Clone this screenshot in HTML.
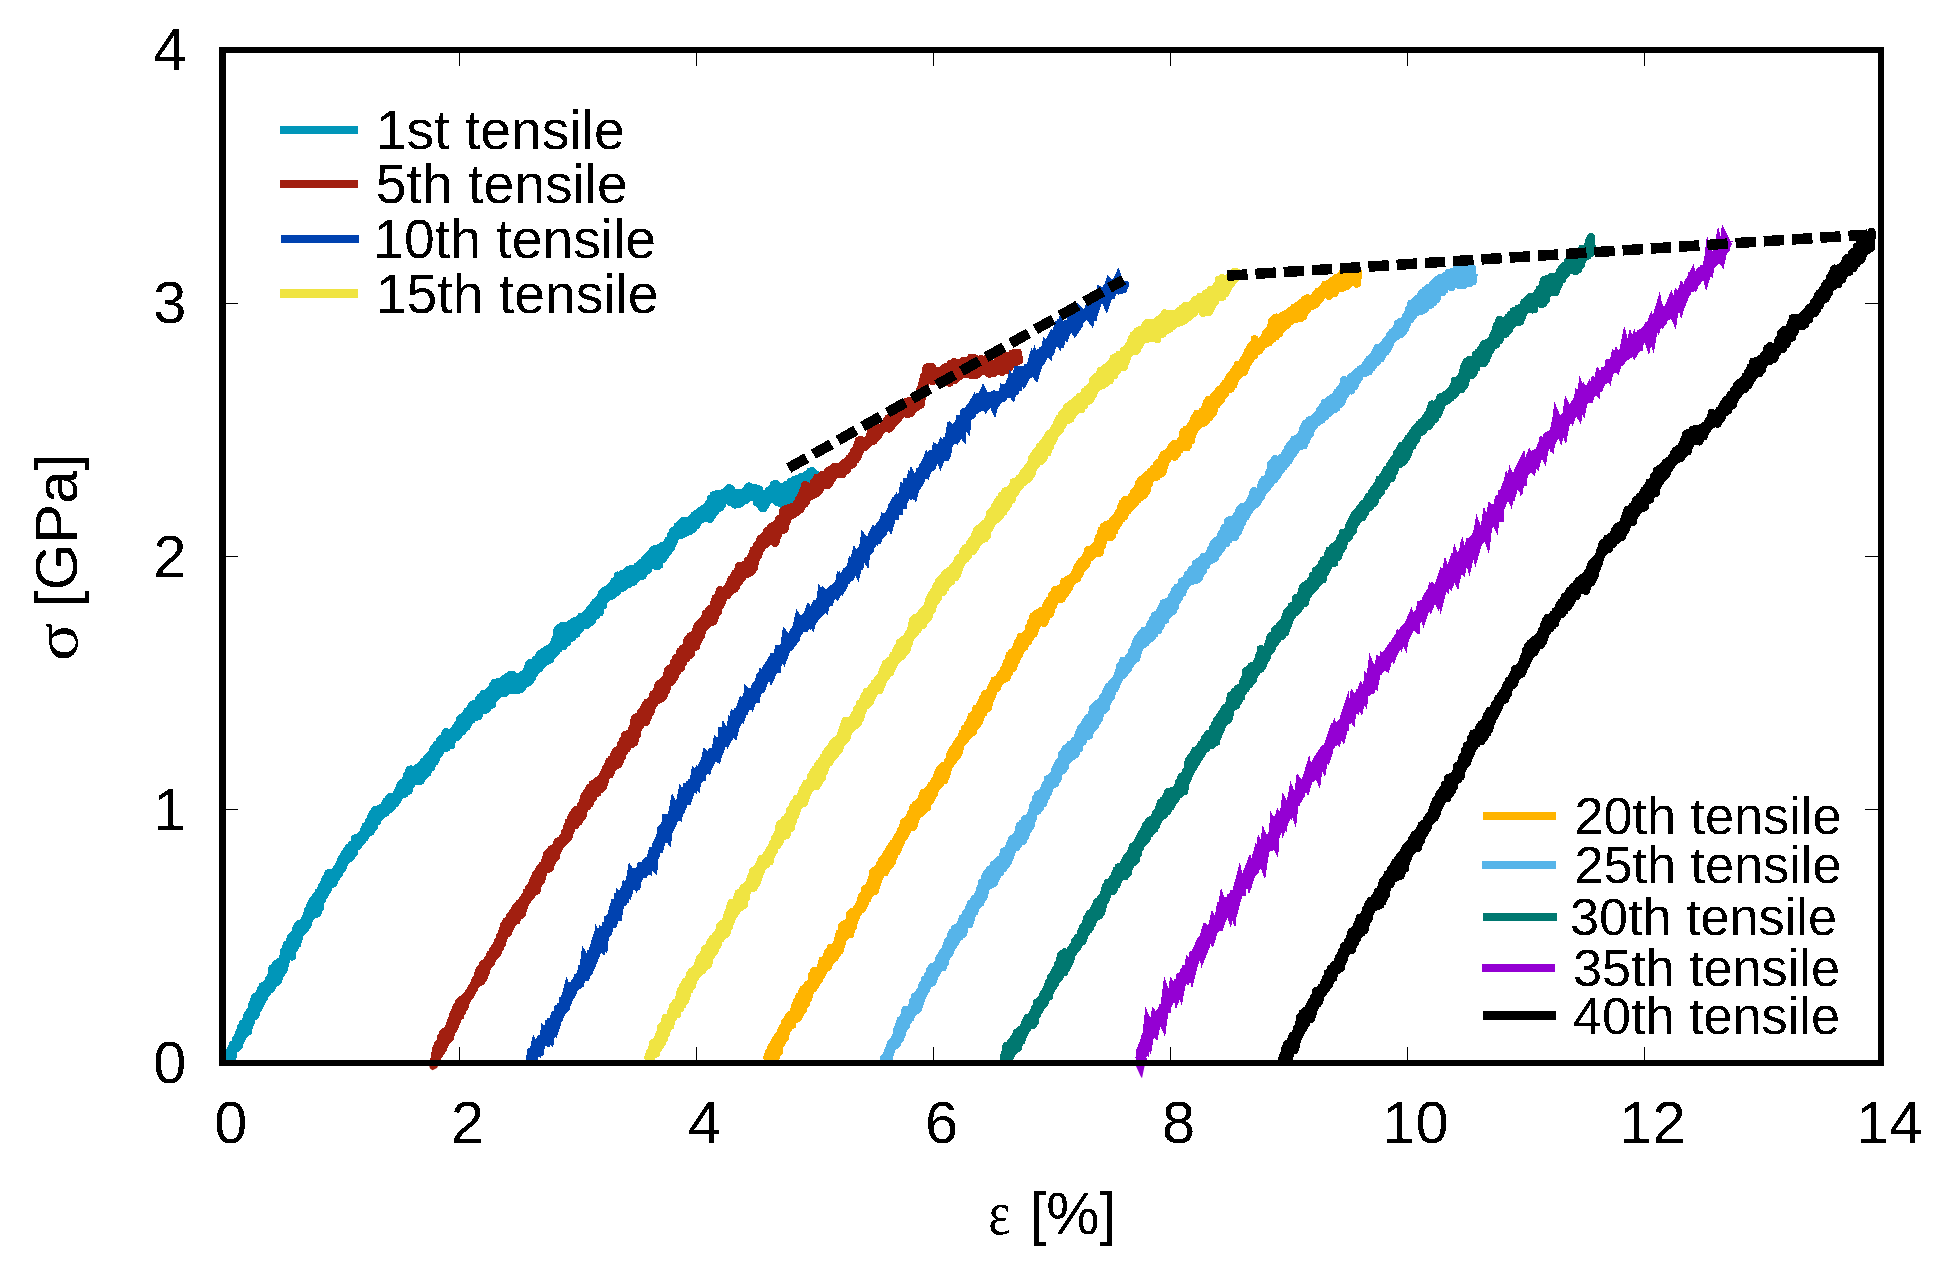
<!DOCTYPE html>
<html><head><meta charset="utf-8"><title>Stress-strain curves</title>
<style>html,body{margin:0;padding:0;background:#fff}svg{display:block}text{font-family:"Liberation Sans",sans-serif;fill:#000}.sym{font-family:"Liberation Serif",serif}</style></head><body>
<svg width="1949" height="1279" viewBox="0 0 1949 1279">
<rect width="1949" height="1279" fill="#fff"/>
<defs><clipPath id="ci"><rect x="219.8" y="0" width="1678.5" height="1065.2"/></clipPath></defs>
<polyline clip-path="url(#ci)" points="224.0,1062.0 224.8,1056.1 225.5,1067.6 226.3,1053.2 227.0,1067.3 227.7,1053.2 228.5,1067.1 229.1,1053.6 229.8,1067.1 230.3,1051.4 230.8,1064.7 231.3,1048.1 231.7,1060.3 232.2,1046.7 232.6,1057.2 233.1,1044.5 233.5,1052.5 234.0,1043.9 234.4,1049.8 234.9,1043.0 235.3,1048.7 235.8,1039.8 236.2,1046.5 236.7,1039.5 237.1,1047.9 237.6,1036.9 238.0,1046.8 238.4,1034.8 238.9,1046.0 239.3,1031.9 239.8,1042.7 240.2,1030.4 240.7,1039.6 241.1,1026.9 241.6,1039.4 242.0,1027.1 242.5,1037.1 242.9,1023.5 243.4,1034.0 243.8,1024.1 244.3,1034.4 244.7,1022.7 245.2,1033.6 245.6,1020.5 246.1,1032.8 246.5,1017.7 247.0,1029.6 247.4,1014.9 247.9,1031.7 248.3,1014.2 248.8,1027.4 249.2,1013.2 249.7,1024.3 250.1,1011.2 250.6,1023.3 251.1,1010.2 251.5,1018.3 252.0,1005.1 252.6,1016.7 253.1,1003.5 253.6,1016.4 254.1,999.8 254.7,1016.0 255.2,996.8 255.7,1014.6 256.3,999.0 256.8,1010.6 257.3,995.7 257.9,1009.2 258.4,995.1 258.9,1006.3 259.4,995.0 260.0,1005.4 260.5,989.7 261.0,1003.0 261.6,991.0 262.1,1000.6 262.6,986.3 263.1,998.7 263.7,988.4 264.2,997.2 264.7,987.6 265.3,994.7 265.8,984.9 266.3,993.9 266.9,984.1 267.4,992.1 267.9,982.7 268.4,990.4 269.0,978.9 269.5,989.8 270.0,977.9 270.6,989.0 271.1,976.2 271.6,988.2 272.1,968.7 272.7,986.3 273.2,970.3 273.7,984.4 274.3,969.8 274.8,982.1 275.3,965.3 275.9,980.5 276.4,963.6 276.9,981.9 277.4,966.5 277.9,980.6 278.4,965.3 278.9,977.9 279.4,961.8 279.9,975.3 280.3,962.2 280.8,971.3 281.3,962.4 281.7,972.9 282.2,959.7 282.6,971.1 283.1,957.0 283.6,970.2 284.0,951.3 284.5,964.2 285.0,949.9 285.4,964.0 285.9,947.0 286.4,960.3 286.8,944.8 287.3,956.3 287.8,944.3 288.2,955.5 288.7,943.2 289.1,954.3 289.6,941.7 290.1,954.7 290.5,938.2 291.0,953.4 291.5,937.5 291.9,956.7 292.4,935.7 292.9,949.9 293.3,936.4 293.8,949.1 294.3,934.0 294.7,947.2 295.2,933.0 295.6,945.9 296.1,929.0 296.6,942.0 297.0,927.3 297.5,943.8 298.0,925.0 298.4,939.5 298.9,924.2 299.4,937.3 299.8,924.6 300.3,933.3 300.8,924.8 301.3,932.9 301.8,923.6 302.3,930.4 302.9,922.6 303.4,930.1 303.9,920.9 304.5,928.9 305.0,919.1 305.5,927.9 306.1,917.2 306.6,924.2 307.1,913.7 307.7,924.9 308.2,909.9 308.7,920.7 309.2,909.3 309.8,917.9 310.3,905.3 310.8,917.3 311.4,904.0 311.9,914.9 312.4,900.9 313.0,915.2 313.5,899.5 314.0,912.4 314.6,899.9 315.1,912.6 315.6,896.5 316.1,913.0 316.7,895.5 317.2,913.6 317.7,896.2 318.3,911.4 318.8,892.0 319.3,908.9 319.9,891.4 320.4,907.0 320.9,889.6 321.5,900.5 322.0,886.6 322.5,899.2 323.0,884.8 323.6,895.6 324.1,885.1 324.6,894.6 325.2,879.7 325.7,892.5 326.2,880.5 326.8,889.6 327.3,876.8 327.9,889.4 328.4,873.3 329.0,886.1 329.5,872.6 330.1,885.2 330.7,876.1 331.3,884.6 331.8,875.5 332.4,883.2 333.0,875.2 333.6,883.2 334.1,874.1 334.7,880.0 335.3,871.0 335.8,878.2 336.4,869.1 337.0,875.9 337.6,867.7 338.1,874.6 338.7,865.3 339.3,873.0 339.9,862.9 340.4,870.1 341.0,859.8 341.6,868.7 342.1,859.4 342.7,867.5 343.3,856.7 343.9,864.4 344.4,854.1 345.0,862.1 345.6,854.4 346.2,860.2 346.7,850.7 347.3,859.1 347.9,850.6 348.4,857.4 349.0,847.4 349.6,858.5 350.2,848.8 350.7,856.8 351.3,845.1 351.9,855.4 352.5,844.5 353.0,852.8 353.6,843.9 354.2,852.2 354.7,839.0 355.3,847.8 355.9,838.4 356.5,845.8 357.0,837.5 357.6,846.5 358.2,837.7 358.8,844.8 359.4,838.4 360.0,843.1 360.6,835.9 361.2,841.3 361.8,835.1 362.4,840.8 363.0,833.4 363.6,838.5 364.2,830.1 364.8,837.5 365.4,826.4 366.0,834.5 366.6,826.9 367.2,833.6 367.8,824.3 368.4,831.7 369.0,820.9 369.6,831.8 370.2,819.6 370.8,831.7 371.4,816.1 372.0,828.7 372.6,813.8 373.2,827.3 373.8,813.4 374.5,825.7 375.1,809.9 375.8,822.2 376.5,810.4 377.2,821.2 377.9,810.3 378.6,818.1 379.3,810.2 380.0,816.5 380.7,808.1 381.4,815.2 382.1,807.4 382.8,812.6 383.5,807.1 384.2,812.3 384.9,804.5 385.6,812.8 386.3,801.6 387.0,810.7 387.7,801.6 388.4,810.0 389.1,798.3 389.8,808.5 390.5,796.9 391.2,807.6 391.9,799.6 392.6,806.0 393.3,798.7 394.0,803.1 394.7,797.6 395.4,803.6 396.1,796.0 396.8,801.4 397.4,791.7 398.1,799.3 398.6,790.0 399.2,796.8 399.8,786.4 400.3,794.3 400.8,784.4 401.4,792.5 401.9,783.2 402.5,793.2 403.0,784.1 403.6,793.6 404.1,783.2 404.7,793.8 405.3,781.7 405.9,790.7 406.6,776.0 407.3,789.1 408.0,775.0 408.7,790.7 409.4,769.9 410.1,784.2 410.8,769.4 411.5,784.5 412.2,771.5 413.0,781.9 413.7,771.1 414.4,778.8 415.1,771.3 415.9,779.3 416.7,768.6 417.5,777.7 418.3,767.3 419.2,781.3 420.1,765.8 420.9,780.4 421.8,764.6 422.6,777.0 423.5,761.6 424.3,775.4 425.2,762.1 426.0,772.8 426.7,758.2 427.4,772.8 428.1,759.5 428.7,770.1 429.3,755.7 429.9,766.8 430.5,757.1 431.1,767.4 431.6,753.5 432.2,764.8 432.8,750.6 433.4,762.6 434.0,748.6 434.6,761.8 435.2,749.5 435.8,759.0 436.3,745.6 436.9,756.6 437.5,744.4 438.1,754.5 438.7,745.2 439.3,753.1 439.9,740.3 440.5,751.4 441.0,741.5 441.6,749.2 442.2,738.5 442.8,747.6 443.4,737.9 444.1,747.0 444.7,734.9 445.4,746.9 446.1,732.2 446.8,747.7 447.5,735.4 448.2,746.0 448.9,733.2 449.6,743.5 450.3,733.4 451.0,745.5 451.7,733.2 452.4,740.7 453.2,731.0 453.9,738.3 454.6,729.6 455.3,736.9 456.0,727.5 456.7,737.1 457.4,724.6 458.1,736.2 458.8,723.7 459.5,733.4 460.2,719.3 460.9,731.3 461.6,718.0 462.3,731.2 463.0,718.1 463.7,728.8 464.4,716.4 465.1,728.1 465.8,714.2 466.4,727.0 467.1,711.7 467.8,724.5 468.5,711.0 469.1,721.5 469.8,709.4 470.5,719.3 471.2,706.6 471.8,719.5 472.5,704.9 473.2,717.2 473.9,704.2 474.5,717.4 475.2,703.6 475.9,717.2 476.5,704.6 477.2,715.6 477.9,702.8 478.6,716.1 479.2,698.9 479.9,711.4 480.6,697.1 481.3,710.5 481.9,697.5 482.6,710.3 483.3,694.2 484.0,710.4 484.7,696.7 485.5,707.3 486.3,694.7 487.1,709.2 488.0,692.8 488.8,705.4 489.7,690.4 490.5,705.1 491.4,688.9 492.2,704.6 493.1,684.8 493.9,698.7 494.8,682.7 495.6,697.3 496.5,683.9 497.3,695.9 498.2,682.2 499.0,693.7 499.9,684.4 500.7,693.0 501.6,681.7 502.5,692.8 503.3,680.2 504.2,693.5 505.1,678.7 506.1,691.6 507.0,677.2 508.0,690.2 508.9,677.7 509.9,690.2 510.8,674.8 511.8,689.6 512.7,675.0 513.7,690.3 514.6,676.6 515.6,690.3 516.5,677.1 517.5,688.0 518.4,678.7 519.4,689.6 520.3,677.0 521.2,689.0 522.0,675.2 522.7,687.0 523.3,675.9 523.9,685.0 524.5,673.9 525.1,683.5 525.7,673.9 526.3,683.6 526.8,670.2 527.4,680.9 528.0,666.9 528.6,682.3 529.2,663.8 529.8,681.1 530.3,663.2 530.9,677.3 531.5,664.4 532.1,677.9 532.7,663.8 533.4,674.7 534.0,662.8 534.6,673.3 535.3,660.2 535.9,669.9 536.6,659.5 537.2,669.8 537.9,658.0 538.5,668.9 539.2,655.4 539.8,667.9 540.5,653.8 541.1,664.5 541.8,653.7 542.5,664.5 543.3,652.2 544.0,662.6 544.8,651.0 545.6,661.9 546.3,649.8 547.1,661.2 547.9,649.9 548.7,658.5 549.4,648.3 550.2,659.7 550.9,647.2 551.6,655.8 552.3,646.2 552.9,655.0 553.4,644.6 554.0,654.2 554.5,641.0 555.1,650.3 555.6,638.4 556.2,651.7 556.7,631.5 557.3,648.0 557.9,629.5 558.5,648.8 559.2,628.1 560.0,647.0 560.9,629.6 561.8,645.5 562.8,625.6 563.7,646.3 564.7,628.6 565.6,643.3 566.6,626.7 567.5,642.6 568.5,626.9 569.3,639.1 570.1,624.2 570.8,637.6 571.6,625.4 572.2,637.7 572.9,622.3 573.6,634.7 574.3,621.6 575.0,633.7 575.7,620.9 576.4,633.9 577.1,621.0 577.8,631.3 578.5,619.7 579.2,629.1 579.9,618.4 580.6,628.3 581.4,616.6 582.3,625.8 583.2,616.4 584.0,624.0 584.9,615.3 585.8,623.9 586.5,614.6 587.3,624.8 587.9,612.4 588.6,621.5 589.2,610.7 589.8,621.4 590.5,608.9 591.1,622.1 591.7,608.8 592.3,620.4 593.0,606.6 593.6,615.8 594.2,604.2 594.8,616.0 595.5,602.4 596.1,615.3 596.7,602.3 597.3,612.7 597.9,600.3 598.6,610.6 599.2,599.6 599.8,612.5 600.4,597.0 601.0,606.9 601.6,593.8 602.2,605.7 602.8,592.3 603.4,605.2 604.0,591.8 604.6,600.3 605.3,590.5 605.9,599.0 606.7,589.8 607.4,596.9 608.2,589.4 609.0,594.5 609.8,587.8 610.5,594.4 611.3,586.6 612.1,595.6 612.9,583.9 613.7,593.7 614.5,581.2 615.3,591.6 616.1,580.0 616.9,592.0 617.7,575.5 618.5,588.3 619.3,577.1 620.2,587.6 621.0,576.1 621.9,588.1 622.7,573.8 623.6,587.2 624.4,574.8 625.3,585.9 626.1,572.3 627.0,583.4 627.8,570.1 628.7,584.4 629.5,569.6 630.4,582.8 631.2,569.2 632.1,582.0 632.9,569.2 633.7,581.8 634.6,569.7 635.4,579.3 636.1,568.0 636.9,576.2 637.7,566.1 638.4,577.0 639.2,565.9 639.9,575.5 640.6,564.0 641.3,576.2 642.0,562.5 642.7,575.7 643.4,562.5 644.0,572.5 644.7,559.3 645.4,571.3 646.1,558.8 646.8,568.8 647.5,556.9 648.2,569.8 648.9,555.7 649.6,566.4 650.3,554.4 651.0,565.5 651.7,553.0 652.4,562.8 653.1,550.1 653.9,563.8 654.7,549.2 655.6,565.7 656.5,549.5 657.5,566.0 658.4,549.1 659.4,564.9 660.3,547.4 661.3,559.1 662.2,546.2 663.2,559.0 664.1,546.5 665.1,555.6 665.9,545.4 666.7,553.3 667.3,542.6 667.8,551.8 668.2,540.5 668.6,549.1 669.0,541.8 669.3,547.5 669.7,540.3 670.0,547.4 670.4,539.1 670.7,547.9 671.1,535.1 671.5,547.4 671.9,533.9 672.4,542.3 673.0,531.5 673.7,541.5 674.4,530.6 675.2,537.1 676.0,529.6 676.8,535.9 677.5,526.3 678.3,534.2 679.1,526.9 679.9,533.7 680.7,523.3 681.5,534.7 682.3,522.1 683.1,533.4 683.9,520.6 684.8,532.4 685.6,521.1 686.4,532.6 687.3,521.3 688.1,531.3 689.0,521.1 689.8,531.0 690.6,520.1 691.5,529.8 692.3,518.2 693.2,528.2 694.1,515.7 694.9,525.4 695.8,514.5 696.6,525.3 697.4,513.3 698.2,521.8 699.0,512.4 699.8,520.1 700.5,510.5 701.2,519.2 701.9,511.0 702.7,518.3 703.4,509.0 704.1,517.9 704.8,508.0 705.6,517.1 706.3,507.5 707.0,518.1 707.7,505.6 708.4,515.7 709.2,503.1 709.9,519.1 710.6,498.7 711.3,514.7 712.0,497.9 712.7,515.1 713.5,495.2 714.2,511.2 714.9,496.8 715.7,511.0 716.4,494.9 717.2,506.6 717.9,493.6 718.7,507.2 719.4,496.0 720.2,507.6 720.9,495.5 721.7,505.4 722.5,493.5 723.3,502.0 724.1,492.8 724.9,500.2 725.8,491.2 726.8,498.2 727.8,489.2 728.7,499.2 729.5,488.1 730.2,501.9 731.0,489.3 731.8,502.1 732.5,492.9 733.3,503.0 734.2,494.2 735.2,504.6 736.1,494.0 737.1,503.1 737.9,492.8 738.7,504.4 739.6,494.6 740.5,503.2 741.3,493.3 742.2,501.7 743.1,493.2 744.0,499.3 744.9,491.7 745.8,499.9 746.6,489.6 747.4,498.6 748.1,487.3 748.7,497.6 749.4,486.4 750.0,495.3 750.9,487.2 751.9,496.0 752.8,487.9 753.7,497.2 754.5,487.7 755.3,498.2 756.2,489.9 757.1,502.7 758.0,489.0 758.8,503.7 759.6,490.1 760.2,504.3 760.8,493.2 761.3,503.6 761.8,495.7 762.3,508.3 762.8,497.3 763.4,508.5 764.3,497.3 765.2,505.6 765.9,495.9 766.6,503.2 767.2,493.5 767.9,500.5 768.6,490.6 769.3,498.4 770.1,490.1 770.9,497.3 771.8,488.6 772.7,498.7 773.7,484.9 774.7,499.8 775.7,483.9 776.7,501.7 777.7,485.8 778.7,502.0 779.7,488.1 780.7,503.6 781.7,486.6 782.7,503.4 783.7,487.4 784.6,498.8 785.6,485.6 786.6,500.8 787.5,484.4 788.4,498.9 789.3,484.3 790.1,502.0 790.9,481.5 791.7,498.0 792.4,483.1 793.2,497.5 794.0,480.3 794.7,491.7 795.5,481.5 796.3,489.6 797.1,479.0 798.0,488.4 798.8,480.1 799.7,486.7 800.6,477.9 801.4,485.8 802.3,476.6 803.2,486.0 804.2,476.5 805.1,486.2 806.1,475.2 807.1,487.0 808.1,474.0 809.1,487.1 810.1,471.7 811.1,490.2 812.1,471.1 813.1,488.8 814.1,473.1 815.1,491.1 816.1,474.8 817.1,490.1 818.0,481.0" fill="none" stroke="#0096B9" stroke-width="8.0" stroke-linejoin="round" stroke-linecap="butt" shape-rendering="crispEdges"/>
<polyline clip-path="url(#ci)" points="433.4,1066.0 433.6,1061.9 433.9,1069.3 434.1,1060.2 434.3,1070.7 434.5,1058.5 434.8,1068.1 435.0,1054.7 435.3,1067.5 435.6,1052.7 435.9,1062.5 436.3,1048.2 436.8,1059.7 437.2,1047.1 437.6,1056.9 438.1,1044.0 438.5,1054.9 439.0,1044.7 439.4,1054.7 439.9,1042.1 440.3,1052.4 440.8,1037.4 441.2,1051.7 441.7,1037.1 442.1,1048.7 442.6,1033.4 443.0,1049.1 443.5,1033.9 443.9,1045.8 444.3,1034.0 444.8,1042.5 445.2,1031.4 445.7,1042.7 446.1,1032.3 446.6,1039.0 447.0,1031.4 447.5,1039.9 447.9,1029.8 448.4,1038.3 448.8,1027.3 449.3,1038.1 449.7,1024.4 450.2,1037.1 450.6,1022.1 451.1,1033.9 451.5,1020.0 452.0,1030.8 452.4,1018.6 452.8,1029.8 453.3,1014.5 453.7,1028.6 454.2,1013.8 454.6,1025.2 455.1,1011.1 455.5,1025.5 456.0,1007.8 456.4,1022.2 456.9,1006.2 457.4,1020.6 457.9,1005.4 458.4,1017.0 458.9,1002.0 459.4,1014.9 460.0,1003.1 460.5,1015.8 461.0,1000.2 461.5,1011.8 462.0,1000.9 462.5,1011.2 463.1,1000.2 463.6,1006.9 464.1,999.6 464.6,1007.1 465.1,997.3 465.6,1003.5 466.1,996.3 466.7,999.8 467.2,995.2 467.7,999.1 468.2,993.6 468.7,997.4 469.2,992.2 469.8,996.3 470.3,989.9 470.8,993.7 471.3,988.2 471.8,992.8 472.3,987.0 472.9,990.4 473.4,984.7 473.9,988.7 474.4,982.7 474.9,986.6 475.4,980.2 476.0,984.9 476.5,978.6 477.0,984.0 477.5,975.9 478.0,983.1 478.5,972.0 479.1,981.1 479.6,969.6 480.1,980.5 480.6,969.3 481.1,981.7 481.6,967.6 482.2,978.9 482.7,964.2 483.2,978.5 483.7,965.1 484.2,976.5 484.7,964.4 485.2,973.6 485.7,963.3 486.2,971.2 486.7,962.0 487.2,967.9 487.7,959.8 488.2,964.7 488.7,958.7 489.2,964.3 489.7,955.8 490.1,963.8 490.6,954.2 491.1,962.9 491.6,953.4 492.1,960.0 492.6,950.8 493.1,957.7 493.6,949.6 494.1,956.1 494.6,948.0 495.1,955.8 495.6,946.7 496.1,955.1 496.6,945.0 497.1,954.0 497.6,942.2 498.1,951.7 498.6,940.6 499.1,949.1 499.6,936.5 500.1,947.6 500.6,935.5 501.1,944.5 501.6,932.7 502.1,943.9 502.6,930.2 503.1,940.1 503.6,925.9 504.1,936.9 504.6,925.0 505.1,935.0 505.6,922.8 506.1,932.5 506.6,921.1 507.1,931.6 507.6,922.1 508.1,932.9 508.6,921.8 509.1,929.8 509.7,916.7 510.2,927.8 510.7,915.3 511.3,925.3 511.8,914.3 512.3,923.0 512.9,912.3 513.4,921.5 513.9,912.1 514.4,920.0 515.0,909.7 515.5,919.4 516.0,907.0 516.6,920.6 517.1,907.7 517.6,917.2 518.2,905.4 518.7,915.1 519.2,903.4 519.8,915.8 520.3,903.8 520.8,914.7 521.3,902.9 521.9,914.3 522.4,900.5 522.9,910.1 523.5,899.9 524.0,906.8 524.5,896.7 525.1,904.1 525.6,896.3 526.1,901.6 526.7,892.1 527.2,900.7 527.7,892.3 528.2,899.1 528.8,888.2 529.3,897.7 529.8,887.2 530.4,896.8 530.9,887.0 531.4,894.9 532.0,883.8 532.5,893.4 533.0,881.7 533.6,891.6 534.1,878.6 534.6,889.8 535.1,877.2 535.7,890.7 536.2,874.1 536.7,890.8 537.3,874.2 537.8,884.6 538.3,871.9 538.9,883.4 539.4,869.0 539.9,880.6 540.4,868.1 541.0,880.8 541.5,867.4 542.0,878.1 542.6,865.2 543.1,873.6 543.6,864.9 544.1,871.0 544.7,861.8 545.2,869.1 545.7,859.1 546.3,868.5 546.8,854.7 547.3,869.4 547.9,853.6 548.4,868.8 548.9,853.8 549.4,867.1 550.0,851.7 550.5,867.0 551.0,849.7 551.6,863.4 552.1,851.6 552.6,860.3 553.1,848.5 553.7,859.2 554.2,847.9 554.7,858.4 555.3,847.4 555.8,857.4 556.3,845.2 556.9,852.5 557.4,841.9 557.9,850.4 558.4,842.0 559.0,847.5 559.5,840.7 560.0,846.2 560.6,840.6 561.1,843.8 561.6,839.4 562.1,843.3 562.6,837.8 563.2,843.1 563.7,836.6 564.2,841.4 564.7,832.5 565.2,840.1 565.7,831.2 566.3,839.5 566.8,827.3 567.3,838.9 567.8,826.0 568.3,837.7 568.8,822.0 569.3,835.0 569.9,821.2 570.4,830.9 570.9,818.3 571.4,829.0 571.9,816.7 572.4,826.7 573.0,814.4 573.5,825.5 574.0,812.9 574.5,825.5 575.0,811.5 575.6,825.4 576.1,810.3 576.7,823.2 577.2,809.5 577.7,820.9 578.3,810.3 578.8,821.7 579.4,809.4 579.9,817.8 580.5,806.2 581.0,817.7 581.6,805.2 582.1,817.1 582.7,801.4 583.2,814.4 583.7,797.8 584.3,809.4 584.8,795.3 585.4,807.5 585.9,795.9 586.5,805.6 587.0,792.6 587.6,806.2 588.1,790.9 588.7,804.3 589.2,788.7 589.8,803.4 590.3,787.3 590.8,800.3 591.4,787.6 591.9,798.2 592.5,784.2 593.0,797.7 593.6,786.2 594.1,794.0 594.7,783.1 595.2,793.7 595.8,783.9 596.3,792.6 596.8,782.2 597.4,793.0 597.9,780.6 598.5,789.3 599.0,779.9 599.6,788.7 600.2,779.5 600.7,789.1 601.3,777.8 601.9,785.4 602.4,776.0 603.0,787.2 603.6,773.7 604.1,784.1 604.7,772.1 605.3,780.2 605.9,768.3 606.4,776.1 607.0,767.2 607.6,774.7 608.1,765.4 608.7,773.5 609.3,761.3 609.8,774.4 610.4,761.6 611.0,771.6 611.5,759.4 612.1,768.1 612.7,758.9 613.3,767.3 613.8,755.7 614.4,766.0 615.0,753.6 615.5,763.7 616.1,750.9 616.7,765.1 617.2,750.4 617.8,764.8 618.4,750.4 618.9,763.5 619.5,748.7 620.1,760.5 620.6,744.9 621.2,757.8 621.7,745.0 622.3,756.1 622.8,741.0 623.4,752.6 623.9,739.7 624.5,751.3 625.1,735.2 625.6,748.0 626.2,735.9 626.7,748.6 627.3,735.8 627.8,745.8 628.4,734.2 628.9,745.2 629.5,734.2 630.1,742.6 630.6,732.9 631.2,744.2 631.7,729.6 632.3,740.2 632.8,727.5 633.4,742.4 633.9,721.4 634.5,742.4 635.1,717.8 635.6,734.8 636.2,719.7 636.8,734.9 637.4,716.6 638.0,729.0 638.6,716.2 639.2,726.3 639.8,716.4 640.4,725.2 641.0,712.6 641.6,723.1 642.1,714.2 642.7,722.7 643.2,710.1 643.7,720.9 644.3,707.5 644.8,720.0 645.4,705.1 645.9,721.8 646.4,705.4 647.0,718.6 647.5,702.5 648.0,717.4 648.6,704.0 649.1,713.8 649.7,703.3 650.2,712.4 650.7,700.8 651.3,710.4 651.8,699.3 652.3,706.8 652.9,694.9 653.4,704.8 654.0,695.1 654.5,703.5 655.0,693.2 655.6,700.6 656.1,691.8 656.6,700.2 657.2,690.3 657.7,699.5 658.3,685.0 658.8,699.7 659.3,685.7 659.9,697.3 660.4,683.5 661.0,698.7 661.5,684.5 662.0,697.2 662.6,682.0 663.1,696.5 663.7,680.4 664.3,694.5 664.8,679.1 665.4,690.6 665.9,678.5 666.5,690.2 667.0,674.0 667.6,685.6 668.1,670.2 668.7,683.4 669.2,669.2 669.8,682.6 670.4,670.9 670.9,679.7 671.5,667.5 672.0,681.2 672.6,668.0 673.1,677.5 673.7,662.7 674.2,678.0 674.8,661.1 675.3,675.7 675.9,658.3 676.4,670.6 677.0,658.6 677.6,671.5 678.1,658.5 678.7,668.5 679.2,655.9 679.8,668.4 680.3,651.6 680.9,668.1 681.4,651.8 682.0,663.8 682.5,648.9 683.1,662.5 683.7,649.2 684.2,660.0 684.8,647.7 685.3,657.6 685.9,646.5 686.4,658.2 687.0,641.3 687.5,656.2 688.1,639.5 688.7,655.0 689.2,637.8 689.8,654.9 690.3,636.4 690.9,653.8 691.4,637.7 692.0,649.1 692.5,635.9 693.1,647.3 693.7,635.0 694.2,647.1 694.8,635.7 695.3,644.9 695.9,630.8 696.4,646.6 697.0,626.9 697.5,642.3 698.1,625.0 698.7,640.3 699.2,625.7 699.8,637.1 700.3,623.0 700.9,635.9 701.4,624.7 702.0,632.2 702.6,620.6 703.1,628.5 703.7,620.2 704.2,627.4 704.7,617.2 705.3,625.5 705.8,613.5 706.3,625.3 706.8,613.5 707.3,624.0 707.8,612.8 708.4,623.2 708.9,610.1 709.4,622.3 709.9,609.1 710.5,621.2 711.0,610.5 711.6,621.4 712.1,609.1 712.7,621.8 713.3,606.1 713.8,620.5 714.4,601.8 715.0,616.6 715.5,598.4 716.1,613.6 716.7,597.7 717.3,610.9 717.8,596.4 718.4,611.2 719.0,592.7 719.5,606.3 720.1,590.1 720.7,605.2 721.2,592.6 721.8,602.3 722.4,593.8 722.9,599.3 723.5,592.8 724.1,596.9 724.6,592.2 725.2,595.3 725.8,590.3 726.4,594.3 726.9,588.7 727.5,595.4 728.1,587.0 728.7,592.7 729.3,584.2 729.9,592.2 730.5,581.5 731.1,588.7 731.7,579.1 732.2,587.4 732.8,579.4 733.4,588.9 734.0,576.4 734.6,588.7 735.2,573.6 735.8,587.2 736.4,573.5 737.1,584.1 737.7,570.8 738.3,582.9 739.0,566.2 739.6,581.2 740.2,565.8 740.9,577.5 741.5,565.8 742.2,577.7 742.8,566.1 743.4,574.3 744.1,565.6 744.7,572.6 745.3,564.5 746.0,574.5 746.6,563.5 747.3,572.3 747.9,560.6 748.5,571.1 749.2,560.0 749.8,572.8 750.4,558.5 751.1,567.8 751.7,555.9 752.2,570.9 752.8,553.0 753.3,568.9 753.8,550.0 754.3,567.3 754.8,550.3 755.3,562.9 755.8,549.2 756.3,558.0 756.8,545.7 757.2,556.0 757.7,544.6 758.2,555.6 758.7,543.2 759.2,552.8 759.7,540.7 760.2,549.7 760.7,539.0 761.3,548.7 762.0,538.9 762.7,545.2 763.6,536.6 764.5,544.8 765.4,534.9 766.3,543.9 767.2,530.9 768.1,541.7 769.0,530.9 769.7,540.0 770.4,528.6 771.1,538.5 771.7,527.0 772.3,538.8 772.9,528.3 773.6,539.3 774.2,525.6 774.8,543.0 775.4,524.7 776.0,541.1 776.6,523.5 777.3,536.7 777.9,522.7 778.5,534.3 779.1,518.8 779.7,530.8 780.3,519.6 780.9,529.2 781.6,517.6 782.2,530.1 782.8,511.6 783.4,529.9 784.0,510.6 784.6,529.1 785.2,509.3 785.9,523.0 786.5,509.4 787.2,520.7 787.8,511.0 788.5,517.5 789.1,508.0 789.8,515.2 790.5,509.1 791.1,514.6 791.8,507.2 792.5,514.9 793.1,508.0 793.8,512.9 794.5,506.5 795.1,513.2 795.8,505.1 796.5,512.3 797.1,502.8 797.8,511.2 798.5,500.1 799.1,509.6 799.8,498.7 800.5,509.5 801.2,496.2 801.8,506.7 802.5,492.1 803.2,503.3 803.8,489.9 804.5,503.7 805.2,484.9 805.8,502.0 806.5,487.7 807.2,498.1 807.9,487.7 808.5,496.3 809.2,488.8 809.9,496.6 810.5,487.3 811.2,495.4 811.9,486.0 812.7,495.4 813.5,482.9 814.5,494.4 815.4,480.8 816.4,493.3 817.3,477.6 818.2,491.9 819.0,477.6 819.7,489.7 820.5,479.0 821.3,486.1 822.0,475.0 822.8,485.7 823.5,475.2 824.3,483.4 825.0,475.3 825.8,483.5 826.5,474.2 827.3,485.2 828.0,471.0 828.8,484.4 829.5,470.3 830.3,481.6 831.1,469.9 831.8,479.3 832.6,469.4 833.4,476.1 834.2,467.1 835.0,473.5 835.9,468.5 836.8,473.7 837.7,467.3 838.6,474.2 839.5,466.9 840.4,473.2 841.3,465.8 842.1,474.4 843.0,464.4 843.9,471.6 844.8,462.4 845.7,470.8 846.5,462.3 847.2,469.3 847.9,460.7 848.6,466.6 849.2,458.7 849.8,465.2 850.4,458.5 851.0,465.0 851.6,456.0 852.2,464.0 852.8,455.4 853.4,463.7 854.0,451.1 854.6,460.4 855.2,450.5 855.8,459.8 856.4,447.6 857.0,457.5 857.6,443.9 858.2,456.1 858.8,440.6 859.4,452.5 860.1,439.8 860.7,449.7 861.4,441.1 862.1,447.8 862.8,442.2 863.5,446.8 864.2,443.0 865.0,447.1 865.7,440.7 866.4,445.1 867.1,440.0 867.8,444.2 868.5,438.7 869.2,442.2 869.9,435.4 870.6,441.5 871.3,430.9 872.0,441.4 872.7,431.0 873.5,440.9 874.2,426.1 874.9,438.8 875.7,427.7 876.5,437.7 877.3,428.3 878.1,435.6 878.9,427.7 879.7,433.2 880.5,427.7 881.3,431.1 882.1,426.9 882.9,428.9 883.7,424.4 884.5,427.7 885.3,423.2 886.1,427.8 886.9,420.0 887.7,427.9 888.5,418.3 889.3,428.7 890.1,417.1 890.9,426.7 891.7,417.5 892.5,423.8 893.2,417.0 894.0,422.6 894.8,415.0 895.5,421.2 896.3,413.5 897.1,419.9 897.8,410.6 898.6,418.4 899.4,409.7 900.2,415.7 900.9,407.4 901.7,414.4 902.5,407.7 903.2,413.6 904.0,406.2 904.7,412.8 905.5,403.3 906.3,413.7 907.0,401.6 907.8,414.3 908.6,402.7 909.3,413.4 910.1,400.5 910.8,413.2 911.6,401.3 912.4,410.4 913.1,400.7 913.9,406.9 914.6,399.3 915.4,408.0 916.2,398.0 916.9,406.5 917.7,395.1 918.4,405.9 919.1,392.7 919.7,402.7 920.3,389.7 920.7,404.5 921.1,388.4 921.4,399.3 921.7,384.6 922.0,398.1 922.3,383.0 922.7,394.1 923.0,379.9 923.3,391.6 923.6,377.8 923.9,389.0 924.2,376.3 924.5,387.0 924.8,376.3 925.2,384.3 925.5,373.3 925.8,382.1 926.3,367.9 926.9,379.8 927.8,367.1 928.8,379.8 929.8,370.1 930.8,380.4 931.8,366.8 932.8,381.3 933.8,371.4 934.8,380.5 935.8,372.3 936.8,379.9 937.8,371.2 938.8,380.3 939.8,371.9 940.7,382.5 941.7,370.9 942.7,382.1 943.6,369.0 944.5,381.1 945.3,367.3 946.2,381.7 947.1,367.8 947.9,380.9 948.8,367.4 949.7,382.7 950.6,364.0 951.4,379.7 952.3,364.9 953.2,379.6 954.0,362.1 954.9,380.3 955.8,362.5 956.7,377.7 957.6,364.6 958.5,376.2 959.5,363.3 960.4,375.8 961.4,362.8 962.3,372.2 963.3,361.1 964.2,373.8 965.2,362.3 966.1,370.2 967.1,360.9 968.0,373.9 969.0,360.3 970.0,372.8 971.0,357.7 972.0,375.5 973.0,358.7 974.0,372.0 975.0,358.3 976.0,374.8 977.0,360.7 978.0,374.1 979.0,360.6 980.0,372.0 981.0,359.2 982.0,369.8 983.0,361.5 983.9,371.4 984.9,359.4 985.8,371.6 986.7,359.9 987.7,372.1 988.6,361.6 989.5,373.7 990.5,363.1 991.4,373.5 992.4,363.9 993.4,373.2 994.4,364.1 995.3,370.1 996.1,364.0 997.0,369.7 997.8,360.6 998.6,370.7 999.5,358.8 1000.3,369.4 1001.1,357.2 1002.0,371.8 1002.8,355.7 1003.6,369.1 1004.5,355.4 1005.3,367.5 1006.2,355.5 1007.2,370.1 1008.1,356.2 1009.1,367.6 1010.1,356.1 1011.1,363.5 1012.1,353.6 1013.1,364.0 1014.0,352.9 1015.0,362.0 1016.0,352.8 1017.0,361.8 1018.0,352.6 1019.0,360.7 1019.3,358.2" fill="none" stroke="#A21F10" stroke-width="8.0" stroke-linejoin="round" stroke-linecap="butt" shape-rendering="crispEdges"/>
<polyline clip-path="url(#ci)" points="530.0,1061.5 531.0,1063.6 531.9,1060.0 532.8,1053.9 533.6,1053.8 534.3,1056.0 535.1,1052.5 535.9,1054.2 536.7,1045.4 537.5,1053.6 538.2,1052.0 539.0,1042.7 539.8,1044.2 540.6,1042.2 541.3,1041.5 542.1,1043.5 542.9,1038.6 543.6,1036.4 544.4,1039.0 545.2,1039.3 546.0,1033.7 546.7,1034.2 547.5,1028.7 548.3,1033.4 549.1,1034.3 549.8,1029.9 550.6,1027.0 551.4,1020.8 552.2,1023.8 552.9,1018.3 553.7,1023.9 554.5,1025.1 555.3,1022.8 556.0,1018.5 556.8,1018.1 557.6,1011.9 558.3,1014.8 559.1,1013.5 559.9,1011.7 560.7,1005.4 561.4,1009.7 562.2,1008.9 563.0,1004.6 563.7,1006.2 564.5,1005.9 565.3,997.7 566.1,1003.5 566.8,998.7 567.6,995.7 568.4,997.7 569.1,994.0 569.9,993.5 570.7,990.8 571.4,990.4 572.2,987.7 573.0,986.5 573.8,985.5 574.5,983.6 575.3,988.3 576.1,984.4 576.8,984.1 577.6,986.1 578.4,982.2 579.2,979.3 579.9,975.2 580.7,978.7 581.5,976.6 582.2,976.7 583.0,980.1 583.8,970.6 584.5,965.5 585.2,970.3 586.0,963.8 586.7,965.0 587.4,966.2 588.2,963.8 588.9,962.1 589.6,962.1 590.3,955.3 591.1,958.5 591.8,960.2 592.5,958.6 593.2,950.7 594.0,955.4 594.7,952.9 595.4,948.0 596.1,945.8 596.9,947.5 597.6,950.0 598.3,946.4 599.0,941.5 599.8,942.8 600.5,943.5 601.2,939.7 601.9,937.5 602.7,938.5 603.4,931.4 604.1,935.8 604.8,930.0 605.6,931.9 606.3,931.6 607.0,929.1 607.7,926.2 608.4,925.8 609.1,927.5 609.8,920.7 610.4,920.5 611.1,922.2 611.8,922.1 612.4,918.7 613.1,916.1 613.8,917.8 614.4,913.8 615.1,918.3 615.8,915.4 616.5,915.4 617.1,907.0 617.8,906.8 618.5,906.0 619.1,902.3 619.8,902.7 620.5,905.0 621.1,898.8 621.8,899.3 622.5,902.4 623.2,898.1 623.8,897.2 624.5,894.7 625.2,891.7 625.8,891.0 626.5,891.3 627.2,887.8 627.9,888.0 628.6,885.5 629.3,885.1 630.2,888.0 631.1,884.5 632.1,878.6 633.1,880.2 634.2,889.1 635.2,883.0 636.2,874.5 637.2,877.4 638.2,875.2 639.3,869.4 640.3,873.8 641.3,876.8 642.3,869.0 643.4,869.0 644.4,863.2 645.4,866.4 646.4,865.3 647.4,866.0 648.4,860.6 649.3,864.2 650.1,858.4 650.8,860.5 651.5,861.1 652.2,861.8 652.8,854.4 653.5,855.6 654.1,854.3 654.8,847.8 655.4,850.7 656.0,850.2 656.7,849.6 657.3,851.8 658.0,845.8 658.6,844.1 659.3,842.6 659.9,841.5 660.6,841.3 661.2,842.7 661.9,834.8 662.5,836.1 663.1,830.0 663.8,829.2 664.4,832.4 665.1,825.9 665.7,830.1 666.4,831.1 667.0,824.4 667.7,823.4 668.3,814.8 669.0,821.2 669.8,821.1 670.7,818.3 671.6,821.0 672.7,818.6 673.7,816.5 674.7,810.9 675.6,812.6 676.4,813.2 677.1,813.5 677.9,808.9 678.6,810.7 679.4,810.0 680.1,805.1 680.9,807.1 681.7,803.6 682.4,800.0 683.2,801.3 683.9,803.3 684.7,799.8 685.4,797.6 686.2,796.3 686.9,796.7 687.7,794.1 688.4,787.8 689.2,783.9 689.9,785.7 690.7,792.4 691.4,788.8 692.2,781.9 692.9,785.8 693.7,779.7 694.4,782.3 695.2,782.8 695.9,778.9 696.7,779.8 697.5,778.7 698.3,771.2 699.1,773.8 700.0,780.0 700.9,770.3 701.8,767.1 702.7,772.7 703.6,768.6 704.5,765.3 705.4,763.4 706.3,764.2 707.2,759.7 708.1,760.7 709.0,762.0 709.9,760.3 710.8,757.8 711.7,757.2 712.6,756.1 713.5,752.5 714.4,750.1 715.3,754.1 716.2,754.7 717.1,751.4 718.0,746.8 718.9,747.7 719.8,745.2 720.7,741.9 721.6,741.6 722.5,741.5 723.3,742.9 724.2,727.4 725.0,741.9 725.7,737.9 726.5,739.4 727.2,732.4 728.0,734.4 728.7,733.0 729.5,732.1 730.2,730.8 731.0,730.5 731.7,731.9 732.4,727.8 733.2,728.7 733.9,725.9 734.7,721.5 735.4,722.3 736.2,721.3 736.9,720.6 737.7,716.2 738.4,718.4 739.1,713.1 739.9,712.8 740.7,713.5 741.5,711.1 742.3,707.4 743.1,705.1 744.0,705.7 744.9,702.5 745.7,709.5 746.6,700.8 747.5,698.7 748.3,705.8 749.2,696.2 750.1,697.0 751.0,698.4 751.8,696.0 752.7,695.5 753.6,697.2 754.4,697.2 755.3,691.6 756.2,690.7 757.0,687.9 757.9,686.1 758.8,685.1 759.7,685.4 760.5,682.5 761.4,683.1 762.3,680.1 763.1,677.3 764.0,677.9 764.8,676.8 765.7,674.9 766.5,673.9 767.4,670.6 768.2,669.3 769.1,673.4 769.9,668.5 770.8,668.4 771.6,670.5 772.5,668.5 773.4,660.6 774.2,664.6 775.1,672.8 775.9,659.0 776.8,659.0 777.6,663.4 778.5,654.5 779.3,660.6 780.2,652.0 781.0,652.2 781.9,651.4 782.7,650.4 783.6,652.1 784.4,650.0 785.3,648.2 786.2,647.1 787.0,641.4 787.9,642.6 788.8,645.5 789.7,638.8 790.7,643.9 791.6,638.9 792.5,635.7 793.4,638.8 794.3,637.6 795.2,633.0 796.1,632.0 797.1,630.1 798.0,629.5 798.9,625.4 799.8,627.0 800.7,630.5 801.6,625.0 802.5,626.0 803.5,625.9 804.4,623.1 805.3,620.4 806.2,619.0 807.1,617.8 808.1,618.8 809.1,616.0 810.0,617.6 811.0,618.9 812.1,614.8 813.1,609.0 814.1,612.2 815.1,609.8 816.1,608.2 817.1,606.3 818.1,606.3 819.1,610.9 820.1,609.8 821.1,607.8 822.2,600.3 823.2,601.8 824.2,602.9 825.2,598.4 826.2,599.6 827.2,599.7 828.3,599.7 829.3,596.0 830.5,594.7 831.6,592.4 832.8,591.2 834.0,591.5 835.3,590.0 836.5,591.3 837.7,589.2 838.8,586.9 839.8,589.9 840.8,584.4 841.6,585.4 842.5,583.9 843.3,580.1 844.2,580.2 845.0,579.6 845.8,576.4 846.7,573.3 847.5,580.3 848.3,572.5 849.2,572.0 850.0,570.9 850.8,570.2 851.7,571.1 852.5,569.7 853.3,565.1 854.2,565.6 855.0,565.6 855.8,562.3 856.7,564.2 857.5,560.9 858.4,561.3 859.3,555.4 860.2,561.0 861.1,555.1 862.0,552.0 862.9,551.1 863.7,550.1 864.6,551.6 865.5,544.9 866.4,546.1 867.3,549.9 868.2,549.0 869.1,542.3 870.0,544.1 870.9,543.1 871.8,540.8 872.7,538.8 873.6,541.0 874.5,537.2 875.4,537.1 876.3,537.3 877.2,532.0 878.1,530.9 879.0,536.5 879.9,528.2 880.7,532.2 881.6,531.1 882.5,527.3 883.4,525.1 884.3,524.4 885.1,521.6 886.0,522.2 886.9,520.4 887.7,518.4 888.6,517.6 889.5,519.3 890.4,516.1 891.2,514.3 892.1,518.2 893.0,512.3 893.8,512.6 894.7,507.9 895.6,506.2 896.5,508.6 897.3,508.6 898.2,500.1 899.1,505.4 900.0,504.5 900.8,501.4 901.7,501.7 902.6,496.4 903.5,498.6 904.4,493.8 905.3,494.7 906.2,493.1 907.1,493.2 908.0,488.4 908.9,478.9 909.8,490.1 910.7,490.7 911.6,485.4 912.5,486.7 913.3,482.8 914.2,484.4 915.1,480.4 916.0,482.7 916.9,478.1 917.8,482.0 918.7,480.6 919.6,476.1 920.6,475.0 921.5,474.5 922.4,468.9 923.4,476.0 924.4,467.9 925.4,466.2 926.4,467.5 927.4,464.5 928.4,466.4 929.4,466.1 930.4,462.7 931.4,462.7 932.4,459.8 933.4,456.1 934.4,456.0 935.4,462.6 936.4,456.5 937.4,451.3 938.4,451.9 939.4,451.4 940.4,454.1 941.4,451.4 942.4,453.4 943.3,459.8 944.3,453.8 945.2,447.8 946.2,448.3 947.1,443.2 948.0,442.4 949.0,437.9 949.9,442.5 950.8,437.4 951.8,439.0 952.7,441.9 953.7,432.8 954.6,433.6 955.5,431.2 956.5,429.7 957.4,433.0 958.3,426.2 959.1,429.5 960.0,427.8 960.8,428.8 961.5,420.7 962.3,420.7 963.1,424.8 963.9,416.7 964.6,420.2 965.4,421.2 966.2,413.6 967.0,413.4 967.7,416.7 968.5,410.3 969.3,414.0 970.1,413.6 970.9,409.6 971.9,408.2 973.0,407.3 974.3,405.0 975.6,407.7 976.9,406.8 978.2,404.4 979.6,404.5 980.9,399.8 982.3,400.1 983.6,397.1 985.0,399.7 986.4,402.6 987.8,400.6 989.2,398.2 990.6,398.0 992.0,397.4 993.4,400.4 994.8,394.5 996.2,399.7 997.6,397.5 999.0,392.2 1000.4,396.6 1001.7,396.2 1003.0,392.7 1004.2,397.1 1005.3,389.9 1006.5,390.0 1007.6,390.4 1008.8,390.2 1009.9,387.6 1011.1,389.2 1012.2,384.6 1013.3,386.3 1014.5,386.9 1015.6,383.2 1016.7,379.8 1017.8,380.8 1018.9,376.4 1020.0,366.5 1021.1,377.8 1022.2,382.3 1023.2,373.4 1024.3,375.9 1025.4,373.8 1026.5,374.0 1027.6,373.2 1028.7,370.3 1029.8,365.0 1030.9,367.6 1032.0,367.8 1033.1,363.9 1034.2,366.0 1035.2,362.8 1036.3,365.5 1037.2,362.6 1038.1,361.7 1039.1,360.9 1040.0,358.4 1040.9,357.6 1041.7,353.7 1042.6,353.2 1043.5,353.8 1044.4,353.0 1045.3,348.3 1046.2,352.7 1047.1,348.6 1047.9,349.4 1048.8,345.3 1049.6,344.2 1050.4,344.8 1051.2,341.8 1052.1,340.0 1053.0,341.2 1054.0,341.2 1055.1,337.8 1056.3,338.4 1057.5,334.6 1058.6,336.5 1059.8,332.5 1061.0,334.4 1062.1,330.2 1063.3,332.3 1064.4,333.1 1065.6,330.0 1066.7,324.9 1067.9,331.3 1069.1,325.4 1070.2,321.3 1071.4,329.3 1072.5,322.5 1073.7,324.6 1074.8,322.7 1076.0,325.6 1077.1,323.9 1078.3,315.0 1079.4,319.2 1080.5,314.7 1081.7,316.0 1082.8,314.8 1084.0,313.8 1085.1,310.4 1086.2,313.8 1087.4,313.3 1088.5,312.3 1089.7,313.9 1090.8,308.0 1092.0,305.3 1093.1,306.7 1094.2,300.9 1095.3,303.8 1096.4,300.5 1097.5,299.6 1098.6,298.1 1099.6,297.3 1100.7,299.7 1101.8,294.0 1102.9,294.6 1104.0,296.1 1105.1,294.3 1106.3,297.2 1107.6,293.4 1108.8,297.1 1110.0,293.1 1111.3,288.2 1112.5,289.5 1113.8,292.8 1115.2,285.2 1116.5,285.4 1117.8,282.7 1119.1,286.1 1120.5,287.9 1121.8,287.6 1123.1,283.8 1123.5,280.9" fill="none" stroke="#0042B0" stroke-width="12.0" stroke-linejoin="miter" stroke-miterlimit="3.2" stroke-linecap="butt" shape-rendering="crispEdges"/>
<polyline clip-path="url(#ci)" points="648.0,1060.0 648.7,1055.2 649.3,1062.5 650.0,1052.3 650.6,1060.1 651.1,1050.6 651.6,1057.0 652.1,1047.8 652.5,1055.3 653.0,1043.3 653.5,1053.6 653.9,1042.6 654.3,1052.9 654.8,1044.2 655.2,1053.5 655.7,1043.6 656.1,1053.6 656.6,1041.3 657.0,1050.4 657.5,1039.6 657.9,1048.7 658.4,1037.3 658.8,1045.5 659.3,1034.6 659.7,1045.4 660.2,1032.5 660.6,1045.1 661.1,1026.9 661.5,1041.3 662.0,1026.0 662.4,1042.3 662.8,1025.8 663.3,1038.8 663.7,1024.3 664.2,1038.4 664.6,1021.3 665.1,1033.4 665.5,1017.8 666.0,1033.7 666.4,1019.1 666.9,1029.8 667.3,1019.1 667.8,1028.4 668.2,1020.6 668.7,1026.6 669.1,1018.9 669.6,1026.5 670.0,1016.3 670.5,1025.8 670.9,1012.6 671.4,1021.4 671.8,1010.4 672.3,1018.4 672.8,1006.6 673.2,1018.1 673.7,1006.7 674.2,1015.9 674.7,1004.7 675.2,1014.0 675.7,1002.4 676.2,1013.6 676.7,1003.2 677.2,1014.2 677.7,1002.0 678.2,1009.5 678.7,998.5 679.2,1008.0 679.7,993.6 680.2,1008.2 680.7,991.0 681.2,1003.7 681.7,992.8 682.2,1005.1 682.7,986.6 683.2,1002.1 683.7,985.6 684.2,999.4 684.7,983.5 685.2,1000.8 685.7,981.8 686.2,997.6 686.7,981.1 687.2,995.0 687.7,980.7 688.2,990.5 688.7,978.9 689.2,990.1 689.7,974.3 690.2,987.2 690.7,975.5 691.2,985.9 691.7,972.0 692.2,985.2 692.7,971.2 693.2,982.0 693.7,970.7 694.2,978.7 694.7,970.3 695.2,977.4 695.7,969.0 696.2,975.1 696.7,968.2 697.2,974.5 697.7,964.2 698.2,973.9 698.8,961.5 699.3,971.7 699.8,958.7 700.3,970.4 700.9,958.7 701.4,970.9 701.9,956.5 702.5,970.3 703.0,955.5 703.5,968.0 704.1,953.0 704.6,966.3 705.1,949.2 705.6,966.0 706.2,949.3 706.7,965.1 707.2,949.3 707.8,965.0 708.3,947.3 708.8,961.8 709.3,945.4 709.9,957.0 710.4,941.7 710.9,956.1 711.5,941.0 712.0,954.0 712.5,938.9 713.1,950.6 713.6,938.5 714.1,951.7 714.6,939.0 715.2,950.1 715.7,936.1 716.2,945.1 716.8,934.8 717.3,945.9 717.8,933.8 718.4,942.8 718.9,931.6 719.4,939.8 719.9,926.8 720.5,938.7 721.0,925.0 721.5,936.9 722.1,923.9 722.6,935.0 723.1,923.9 723.6,935.3 724.2,924.6 724.7,932.2 725.2,922.4 725.7,934.1 726.2,920.0 726.7,933.3 727.3,915.3 727.8,928.4 728.3,912.8 728.8,927.3 729.3,910.0 729.8,922.7 730.4,905.5 730.9,921.4 731.4,903.0 731.9,917.7 732.4,905.7 732.9,916.5 733.4,905.1 734.0,914.6 734.5,902.6 735.0,911.7 735.5,902.0 736.0,911.5 736.5,899.2 737.0,909.6 737.6,895.4 738.1,908.9 738.6,893.3 739.1,905.9 739.6,895.1 740.1,906.9 740.7,893.9 741.2,907.0 741.7,891.5 742.2,905.0 742.7,889.9 743.2,905.2 743.7,887.5 744.3,904.0 744.8,888.0 745.3,897.9 745.8,886.3 746.3,897.3 746.8,887.5 747.3,891.9 747.9,885.6 748.4,889.3 748.9,883.0 749.4,888.6 749.9,880.4 750.4,886.5 751.0,876.9 751.5,887.1 752.0,875.1 752.5,885.6 753.0,871.2 753.5,887.8 754.0,873.3 754.6,886.1 755.1,871.0 755.6,882.2 756.1,869.5 756.6,883.2 757.1,868.6 757.7,880.2 758.2,867.1 758.7,877.0 759.2,865.0 759.7,874.3 760.2,862.5 760.7,871.9 761.3,859.0 761.8,868.1 762.3,860.5 762.8,866.2 763.3,859.3 763.8,866.1 764.3,858.1 764.9,863.8 765.4,856.5 765.9,864.8 766.4,855.2 766.9,861.4 767.4,854.0 768.0,862.1 768.5,851.6 769.0,860.6 769.5,850.2 770.0,861.3 770.5,848.7 771.0,856.1 771.6,846.5 772.1,853.4 772.6,844.1 773.1,851.2 773.6,842.6 774.1,850.7 774.7,838.9 775.2,846.5 775.7,838.1 776.2,845.3 776.7,835.8 777.2,845.3 777.8,834.0 778.3,843.0 778.8,827.4 779.3,842.8 779.9,824.2 780.4,840.1 780.9,825.7 781.4,837.4 782.0,823.8 782.5,836.7 783.0,822.1 783.5,836.0 784.1,820.6 784.6,834.1 785.1,819.3 785.6,833.8 786.1,819.1 786.7,835.3 787.2,818.2 787.7,830.7 788.2,816.2 788.8,828.0 789.3,815.1 789.8,828.4 790.3,809.7 790.9,827.9 791.4,809.8 791.9,821.8 792.4,806.5 793.0,821.3 793.5,803.8 794.0,816.8 794.5,804.2 795.0,816.0 795.6,802.0 796.1,813.0 796.6,798.9 797.1,810.2 797.7,798.6 798.2,806.4 798.7,798.4 799.2,805.6 799.8,797.2 800.3,803.5 800.8,795.2 801.3,801.6 801.8,792.4 802.4,801.9 802.9,789.3 803.4,803.4 803.9,788.0 804.5,802.4 805.0,786.6 805.5,799.6 806.0,783.8 806.6,794.7 807.1,785.7 807.6,793.2 808.1,782.9 808.6,791.2 809.2,782.6 809.7,788.9 810.2,780.6 810.7,788.2 811.3,775.8 811.8,785.7 812.3,774.0 812.9,786.1 813.4,772.4 814.0,786.3 814.5,770.9 815.1,785.7 815.6,769.3 816.2,786.4 816.7,769.2 817.3,782.9 817.9,765.8 818.4,783.6 819.0,763.7 819.5,780.8 820.1,763.0 820.6,777.0 821.2,762.3 821.8,778.1 822.3,759.7 822.9,773.4 823.4,757.4 824.0,772.2 824.5,757.1 825.1,769.2 825.6,754.3 826.2,766.1 826.8,752.8 827.3,762.7 827.9,750.6 828.4,761.8 829.0,749.4 829.5,762.1 830.1,748.5 830.6,760.2 831.2,748.2 831.8,756.3 832.3,744.1 832.9,756.7 833.4,744.9 834.0,754.7 834.5,742.3 835.1,754.9 835.6,741.0 836.2,751.9 836.7,740.1 837.3,751.5 837.9,739.8 838.4,749.5 839.0,738.0 839.5,749.3 840.1,736.8 840.6,745.4 841.2,733.6 841.7,743.0 842.3,730.2 842.8,742.1 843.4,727.0 843.9,741.2 844.5,723.3 845.0,739.2 845.6,720.9 846.1,738.6 846.7,724.2 847.3,736.1 847.8,722.8 848.4,732.0 848.9,722.6 849.5,730.5 850.0,722.1 850.6,729.0 851.1,720.8 851.7,728.4 852.2,719.2 852.8,726.2 853.3,717.1 853.9,723.6 854.4,714.6 855.0,723.5 855.5,714.6 856.1,725.1 856.7,710.0 857.2,723.9 857.8,709.4 858.3,722.7 858.9,707.2 859.4,717.5 860.0,703.5 860.5,718.5 861.1,703.7 861.7,712.7 862.2,701.5 862.8,710.1 863.3,699.6 863.9,706.8 864.4,696.0 865.0,704.9 865.6,695.3 866.1,703.9 866.7,691.9 867.2,705.0 867.8,691.7 868.3,703.4 868.9,693.5 869.4,702.7 870.0,690.8 870.6,700.7 871.1,688.6 871.7,697.6 872.2,687.8 872.8,695.4 873.3,685.7 873.9,692.2 874.4,683.5 875.0,691.6 875.6,683.8 876.1,690.9 876.7,682.1 877.2,690.0 877.8,679.9 878.3,689.8 878.9,679.7 879.4,690.4 880.0,677.6 880.5,687.9 881.1,675.7 881.7,684.5 882.2,672.5 882.8,681.1 883.3,669.2 883.9,678.6 884.4,666.8 885.0,677.9 885.5,664.1 886.1,677.0 886.6,664.7 887.2,674.4 887.8,663.0 888.3,672.7 888.9,661.1 889.4,671.7 890.0,661.1 890.5,672.0 891.1,660.4 891.6,668.0 892.2,659.5 892.7,667.1 893.3,655.5 893.8,664.0 894.4,655.7 895.0,662.4 895.5,652.1 896.1,661.1 896.6,649.4 897.2,658.7 897.7,647.7 898.3,658.1 898.8,646.3 899.4,655.9 899.9,642.4 900.4,656.0 901.0,642.1 901.5,656.2 902.1,642.0 902.6,654.9 903.2,640.2 903.7,650.8 904.2,640.7 904.8,650.5 905.3,639.0 905.9,650.8 906.4,637.8 906.9,649.0 907.5,636.2 908.0,644.9 908.6,634.3 909.1,642.8 909.6,632.4 910.2,638.6 910.7,629.8 911.3,636.6 911.8,624.3 912.3,635.0 912.9,620.7 913.4,634.7 914.0,619.9 914.5,633.3 915.0,618.0 915.6,631.6 916.1,619.6 916.7,629.2 917.2,618.1 917.7,629.6 918.3,616.7 918.8,625.9 919.4,615.7 919.9,625.6 920.5,614.7 921.0,625.4 921.5,612.8 922.1,625.3 922.6,611.4 923.2,624.4 923.7,611.9 924.3,621.3 924.8,609.9 925.4,616.7 925.9,608.4 926.4,619.5 927.0,607.3 927.5,616.5 928.1,604.0 928.6,616.9 929.2,599.8 929.7,611.8 930.2,597.5 930.8,609.3 931.3,594.9 931.9,610.0 932.4,595.5 933.0,605.9 933.5,592.0 934.1,602.9 934.6,591.0 935.1,600.3 935.7,587.3 936.2,600.4 936.8,585.9 937.3,596.7 937.9,584.0 938.4,597.2 938.9,581.5 939.5,593.4 940.0,581.0 940.6,592.4 941.2,579.2 941.7,590.6 942.3,578.2 942.9,592.3 943.5,576.7 944.1,589.0 944.7,574.3 945.3,588.0 945.9,573.8 946.5,585.0 947.1,572.7 947.8,584.0 948.4,572.1 949.0,581.9 949.6,571.0 950.2,581.6 950.8,571.1 951.4,581.4 952.0,569.3 952.6,576.7 953.2,567.2 953.8,576.7 954.5,566.5 955.1,577.5 955.7,565.1 956.3,573.9 956.9,562.5 957.5,574.4 958.1,559.5 958.7,569.5 959.3,558.2 959.9,566.4 960.6,557.7 961.2,563.7 961.8,556.6 962.4,561.1 963.0,552.6 963.6,559.6 964.1,549.9 964.7,558.6 965.3,548.3 965.9,558.5 966.5,549.1 967.1,557.2 967.7,548.1 968.3,555.4 968.9,546.5 969.5,552.6 970.1,542.8 970.6,551.6 971.2,541.7 971.8,549.2 972.4,540.3 973.0,551.2 973.6,538.4 974.2,549.1 974.8,535.4 975.4,547.6 976.0,533.5 976.6,545.2 977.2,529.9 977.7,542.8 978.3,529.0 978.9,541.9 979.5,530.9 980.1,540.7 980.7,527.4 981.3,539.4 981.9,526.5 982.5,538.2 983.1,526.8 983.7,537.2 984.2,523.8 984.8,538.6 985.4,524.5 986.0,534.3 986.6,522.4 987.2,535.3 987.8,520.1 988.3,529.6 988.9,517.9 989.5,528.1 990.1,513.5 990.7,525.6 991.3,511.8 991.8,522.0 992.4,512.5 993.0,521.7 993.6,509.5 994.2,521.1 994.8,506.9 995.3,519.3 995.9,505.5 996.5,519.3 997.1,502.6 997.7,518.0 998.2,501.4 998.8,516.2 999.4,499.6 1000.0,516.0 1000.6,500.2 1001.2,511.7 1001.7,495.4 1002.3,512.7 1002.9,495.4 1003.5,511.8 1004.1,494.1 1004.7,507.7 1005.3,491.3 1005.8,508.3 1006.4,491.7 1007.0,504.9 1007.6,490.5 1008.2,505.0 1008.8,490.8 1009.4,501.5 1010.0,490.5 1010.6,500.4 1011.2,488.8 1011.8,499.7 1012.4,486.2 1013.0,495.4 1013.6,482.2 1014.2,494.0 1014.8,482.6 1015.4,492.4 1016.0,481.5 1016.6,490.2 1017.2,480.8 1017.8,486.1 1018.4,480.0 1019.0,484.9 1019.6,478.2 1020.2,485.9 1020.8,477.1 1021.4,482.5 1022.0,475.8 1022.6,481.8 1023.2,473.5 1023.8,482.3 1024.4,472.2 1025.0,480.0 1025.6,470.6 1026.2,478.8 1026.8,469.6 1027.4,479.1 1028.0,467.4 1028.6,478.2 1029.2,466.4 1029.8,476.8 1030.4,463.7 1031.0,474.7 1031.6,458.4 1032.2,472.5 1032.8,457.8 1033.4,468.4 1034.0,455.3 1034.6,465.9 1035.2,453.6 1035.8,465.3 1036.4,452.3 1037.0,461.7 1037.6,450.6 1038.2,461.9 1038.8,450.4 1039.4,460.7 1040.0,446.5 1040.6,461.0 1041.2,446.3 1041.8,458.6 1042.4,444.0 1043.0,458.8 1043.6,443.4 1044.2,456.6 1044.8,441.8 1045.4,453.4 1045.9,439.6 1046.5,452.7 1047.0,437.7 1047.6,452.6 1048.1,435.6 1048.7,446.7 1049.2,434.2 1049.8,447.2 1050.3,435.0 1050.9,443.1 1051.4,432.8 1052.0,441.6 1052.5,431.8 1053.1,440.2 1053.6,429.5 1054.2,437.4 1054.7,427.8 1055.3,434.5 1055.8,426.4 1056.4,432.4 1056.9,423.0 1057.5,432.5 1058.0,420.9 1058.6,429.7 1059.2,418.5 1059.8,430.0 1060.4,419.3 1061.0,427.4 1061.7,414.6 1062.3,425.3 1063.0,413.5 1063.7,423.1 1064.4,412.2 1065.0,420.9 1065.7,412.3 1066.4,420.5 1067.1,407.3 1067.8,418.1 1068.5,407.0 1069.1,419.7 1069.8,407.1 1070.5,418.7 1071.2,404.0 1071.9,416.2 1072.6,403.8 1073.2,414.1 1073.9,402.7 1074.6,412.0 1075.3,401.4 1076.0,410.5 1076.7,399.4 1077.3,409.6 1078.0,399.7 1078.7,407.5 1079.4,397.0 1080.1,407.6 1080.7,396.9 1081.4,409.2 1082.1,397.3 1082.8,405.3 1083.5,394.5 1084.1,405.6 1084.8,391.5 1085.5,402.0 1086.1,391.4 1086.8,401.5 1087.5,389.5 1088.2,401.1 1088.8,388.2 1089.5,400.6 1090.2,387.4 1090.8,398.5 1091.5,386.1 1092.2,395.5 1092.9,380.8 1093.5,394.0 1094.2,378.9 1094.9,390.1 1095.6,378.7 1096.2,388.7 1096.9,376.5 1097.6,387.5 1098.2,376.1 1098.9,386.6 1099.6,373.6 1100.3,385.0 1100.9,370.8 1101.6,385.3 1102.3,373.4 1103.0,384.9 1103.7,372.2 1104.4,383.3 1105.1,368.0 1105.8,383.2 1106.5,367.6 1107.2,380.7 1107.9,366.3 1108.6,380.2 1109.3,366.6 1110.0,380.4 1110.7,363.8 1111.4,376.4 1112.1,361.6 1112.9,374.8 1113.6,358.3 1114.3,375.4 1115.0,357.4 1115.7,372.0 1116.4,358.2 1117.1,370.7 1117.8,357.0 1118.5,366.4 1119.2,354.7 1119.9,367.1 1120.7,354.6 1121.4,366.7 1122.1,354.3 1122.8,367.5 1123.5,350.9 1124.2,366.4 1124.9,350.1 1125.6,362.3 1126.3,348.9 1127.0,357.8 1127.7,347.5 1128.4,354.6 1129.1,345.4 1129.8,352.6 1130.5,342.1 1131.3,350.5 1132.0,338.7 1132.7,349.2 1133.4,335.5 1134.1,350.1 1134.8,334.1 1135.5,351.3 1136.2,337.2 1136.9,350.1 1137.6,331.2 1138.3,346.4 1139.0,331.5 1139.7,344.9 1140.4,329.8 1141.1,341.7 1141.8,332.4 1142.5,340.4 1143.3,329.5 1144.0,339.3 1144.7,326.5 1145.5,338.1 1146.2,323.8 1147.0,339.2 1147.8,322.9 1148.7,337.4 1149.5,325.2 1150.4,336.7 1151.2,323.8 1152.1,338.1 1152.9,322.9 1153.8,336.5 1154.7,322.6 1155.5,337.9 1156.4,321.6 1157.2,339.3 1158.1,320.0 1159.0,334.1 1159.8,321.1 1160.7,333.1 1161.5,317.7 1162.4,334.0 1163.2,316.5 1164.1,329.3 1165.0,313.3 1165.8,330.8 1166.7,315.5 1167.6,327.1 1168.4,314.9 1169.3,329.1 1170.2,313.8 1171.0,324.4 1171.9,313.8 1172.8,326.0 1173.7,315.2 1174.5,323.4 1175.4,314.1 1176.3,321.1 1177.2,313.3 1178.0,323.0 1178.9,311.3 1179.8,321.6 1180.7,310.7 1181.5,321.7 1182.4,308.4 1183.3,320.7 1184.2,307.1 1185.0,320.2 1185.9,305.7 1186.8,316.7 1187.7,306.2 1188.5,317.4 1189.4,305.9 1190.3,315.6 1191.2,305.1 1192.1,313.1 1193.0,303.3 1193.9,312.9 1194.8,300.2 1195.7,310.3 1196.6,300.0 1197.5,309.1 1198.4,299.8 1199.3,309.4 1200.2,296.6 1201.1,308.0 1202.0,297.7 1202.9,312.8 1203.8,297.1 1204.6,312.0 1205.5,293.5 1206.4,312.3 1207.3,293.4 1208.2,312.3 1209.1,293.0 1210.0,310.3 1210.8,289.5 1211.6,307.3 1212.4,292.2 1213.2,303.8 1214.0,289.0 1214.8,302.0 1215.6,288.2 1216.4,298.2 1217.1,284.9 1217.9,296.6 1218.7,280.0 1219.4,296.7 1220.2,283.3 1221.0,297.2 1221.8,278.2 1222.5,296.8 1223.3,281.4 1224.1,293.4 1224.8,280.6 1225.6,293.5 1226.3,279.2 1227.1,290.0 1227.9,279.9 1228.6,287.3 1229.3,276.9 1230.1,284.3 1230.8,277.1 1231.5,283.0 1232.2,276.1 1232.8,281.1 1233.4,274.0 1234.0,280.2 1234.6,272.0 1235.1,278.8 1235.7,272.9 1236.2,276.8 1236.8,272.3 1237.0,273.5" fill="none" stroke="#F0E442" stroke-width="8.0" stroke-linejoin="round" stroke-linecap="butt" shape-rendering="crispEdges"/>
<polyline clip-path="url(#ci)" points="767.0,1060.0 767.6,1055.8 768.2,1065.0 768.8,1052.2 769.4,1063.1 769.9,1052.1 770.4,1063.6 770.9,1048.0 771.4,1062.2 771.9,1046.3 772.4,1058.4 772.9,1045.0 773.4,1056.4 773.9,1043.7 774.4,1054.4 774.9,1041.7 775.4,1058.3 775.9,1039.7 776.4,1056.1 776.9,1038.9 777.4,1053.1 777.9,1036.8 778.4,1051.8 778.9,1035.7 779.4,1051.1 779.9,1034.1 780.4,1044.7 780.9,1031.0 781.4,1043.6 781.9,1029.1 782.4,1041.4 782.9,1027.2 783.4,1039.5 783.9,1026.0 784.4,1037.5 784.9,1022.7 785.4,1037.2 785.9,1023.5 786.4,1032.3 786.9,1020.8 787.4,1029.6 787.9,1018.2 788.4,1028.4 788.9,1016.3 789.4,1026.2 789.9,1016.8 790.4,1024.4 790.9,1014.6 791.4,1023.5 791.9,1014.0 792.4,1024.9 792.9,1013.4 793.4,1020.6 793.9,1010.0 794.4,1019.9 795.0,1006.4 795.5,1017.2 796.0,1004.5 796.5,1018.9 797.1,1001.0 797.6,1017.1 798.1,1001.8 798.6,1017.2 799.2,996.5 799.7,1014.9 800.2,998.0 800.8,1012.1 801.3,995.7 801.8,1009.0 802.4,991.3 802.9,1009.8 803.4,989.5 803.9,1006.4 804.5,991.1 805.0,1002.7 805.5,988.2 806.1,1004.1 806.6,986.8 807.1,999.3 807.6,985.0 808.2,998.3 808.7,984.5 809.2,996.0 809.8,984.4 810.3,991.7 810.8,982.5 811.4,988.8 811.9,975.3 812.4,987.8 812.9,974.2 813.5,988.0 814.0,971.5 814.5,984.5 815.1,970.5 815.6,985.4 816.1,970.5 816.6,982.6 817.2,973.8 817.7,981.1 818.2,973.2 818.8,980.0 819.3,970.7 819.8,977.7 820.4,967.7 820.9,976.2 821.4,964.9 821.9,974.2 822.5,960.4 823.0,972.2 823.5,960.6 824.1,969.7 824.6,960.2 825.1,967.4 825.7,958.5 826.2,966.1 826.7,955.9 827.3,965.0 827.8,952.3 828.3,966.9 828.8,951.1 829.4,963.6 829.9,950.6 830.4,961.3 831.0,947.5 831.5,960.5 832.0,948.8 832.6,959.2 833.1,948.0 833.6,957.6 834.2,947.3 834.7,957.6 835.2,946.6 835.7,954.4 836.3,945.1 836.8,954.0 837.3,942.6 837.9,950.8 838.4,937.9 838.9,950.6 839.5,933.5 840.0,950.4 840.5,933.6 841.1,945.9 841.6,926.6 842.1,943.1 842.7,928.2 843.2,938.0 843.7,924.6 844.2,937.3 844.8,927.0 845.3,936.1 845.8,923.6 846.4,934.7 846.9,925.2 847.4,934.6 847.9,922.9 848.4,933.2 848.9,921.1 849.5,933.2 850.0,914.3 850.5,934.5 851.0,914.4 851.5,929.7 852.0,912.0 852.5,926.4 853.0,914.1 853.4,926.6 853.9,913.6 854.4,921.6 854.9,911.4 855.4,918.2 855.9,910.9 856.4,916.5 856.9,908.3 857.4,913.5 857.9,907.1 858.4,912.2 858.9,905.3 859.4,910.5 859.9,903.1 860.4,910.0 860.9,899.8 861.4,908.9 861.9,896.6 862.4,908.7 862.9,895.8 863.4,906.2 863.9,893.9 864.4,904.3 864.9,889.3 865.4,901.8 865.9,890.1 866.4,899.7 866.9,889.4 867.4,898.9 867.9,889.9 868.4,895.9 868.9,886.6 869.4,894.0 869.9,884.4 870.4,893.0 870.9,881.0 871.4,892.1 871.9,878.1 872.4,889.5 872.9,872.6 873.4,890.4 873.9,873.9 874.4,891.3 875.0,870.4 875.5,890.3 876.0,871.2 876.5,884.8 877.0,869.2 877.5,883.4 878.0,868.0 878.6,879.1 879.1,866.9 879.6,875.8 880.1,864.3 880.6,875.3 881.1,863.0 881.6,873.5 882.1,860.0 882.7,872.1 883.2,860.9 883.7,872.1 884.2,860.5 884.7,872.5 885.2,856.7 885.7,870.6 886.3,853.9 886.8,867.8 887.3,853.7 887.8,865.7 888.3,850.9 888.8,864.6 889.3,849.4 889.9,865.3 890.4,849.9 890.9,860.2 891.4,846.1 891.9,861.8 892.4,845.6 892.9,858.5 893.4,843.4 894.0,855.8 894.5,842.7 895.0,851.9 895.5,841.0 896.0,850.9 896.5,839.3 897.0,851.4 897.6,836.5 898.1,849.1 898.6,836.4 899.1,845.8 899.6,833.9 900.2,843.4 900.7,830.6 901.2,841.4 901.8,829.5 902.3,838.5 902.8,826.1 903.3,837.8 903.9,822.3 904.4,836.6 904.9,822.4 905.5,833.7 906.0,823.3 906.5,831.7 907.0,820.6 907.6,830.4 908.1,821.5 908.6,828.4 909.2,817.4 909.7,827.1 910.2,815.4 910.8,826.2 911.3,812.7 911.8,825.3 912.4,810.4 912.9,826.9 913.4,807.3 914.0,825.1 914.5,807.6 915.1,820.5 915.6,804.5 916.2,817.2 916.8,804.0 917.3,815.9 917.9,804.3 918.4,814.1 919.0,803.1 919.5,813.2 920.1,801.5 920.6,813.5 921.2,800.2 921.8,811.9 922.3,796.6 922.9,809.0 923.4,793.2 924.0,809.7 924.5,794.9 925.1,809.1 925.6,793.9 926.2,806.6 926.8,793.6 927.3,807.4 927.9,790.8 928.4,801.6 929.0,790.7 929.5,801.3 930.1,788.1 930.6,800.5 931.2,785.7 931.8,797.0 932.3,785.2 932.9,795.0 933.4,783.3 934.0,793.6 934.5,781.3 935.1,789.7 935.6,780.2 936.2,787.6 936.7,776.6 937.3,786.4 937.8,773.7 938.3,785.5 938.9,771.2 939.4,783.7 939.9,769.8 940.4,783.3 940.9,771.2 941.4,780.9 942.0,767.3 942.5,780.5 943.0,767.6 943.5,779.2 944.0,765.6 944.5,780.2 945.0,766.0 945.6,777.5 946.1,764.9 946.6,774.0 947.1,763.7 947.6,770.7 948.1,761.2 948.6,767.4 949.2,759.8 949.7,765.1 950.2,755.3 950.7,764.1 951.2,752.4 951.7,762.4 952.3,750.0 952.8,761.3 953.3,751.1 953.8,759.0 954.3,748.2 954.8,757.3 955.3,746.8 955.9,756.4 956.4,744.2 956.9,756.0 957.4,743.0 957.9,753.8 958.4,741.1 958.9,752.0 959.5,741.3 960.0,748.4 960.5,739.2 961.0,744.3 961.5,736.5 962.0,742.6 962.5,733.5 963.1,741.4 963.6,732.7 964.1,740.8 964.6,728.7 965.1,739.7 965.6,728.4 966.1,738.0 966.6,728.4 967.2,736.2 967.7,724.7 968.2,736.0 968.7,725.2 969.2,733.2 969.7,721.4 970.2,733.2 970.8,718.4 971.3,732.5 971.8,716.0 972.3,731.0 972.8,715.1 973.3,731.9 973.8,714.6 974.4,727.5 974.9,714.1 975.4,726.3 975.9,708.9 976.4,722.5 976.9,709.4 977.4,724.4 978.0,709.1 978.5,719.7 979.0,708.5 979.5,721.4 980.0,705.6 980.5,718.1 981.0,702.9 981.6,715.3 982.1,701.4 982.6,712.7 983.1,698.1 983.6,712.6 984.1,697.3 984.6,709.1 985.2,693.9 985.7,707.9 986.2,695.8 986.7,705.6 987.2,694.4 987.7,708.4 988.2,694.3 988.8,704.0 989.3,691.8 989.8,700.0 990.3,690.6 990.8,698.6 991.3,687.5 991.9,696.4 992.4,684.7 992.9,693.4 993.4,683.4 993.9,690.4 994.4,680.5 995.0,688.8 995.5,681.0 996.0,687.6 996.5,680.3 997.1,687.8 997.6,680.4 998.2,684.6 998.7,678.5 999.2,683.1 999.8,676.4 1000.3,680.5 1000.9,674.6 1001.4,679.6 1001.9,673.3 1002.5,679.8 1003.0,671.9 1003.6,677.8 1004.1,669.2 1004.6,676.4 1005.2,667.6 1005.7,677.8 1006.3,664.6 1006.8,677.7 1007.3,661.8 1007.9,674.6 1008.4,660.2 1009.0,673.0 1009.5,655.3 1010.0,670.0 1010.6,655.9 1011.1,668.6 1011.7,652.9 1012.2,668.7 1012.7,652.1 1013.3,667.7 1013.8,653.9 1014.4,664.3 1014.9,650.9 1015.5,660.7 1016.1,647.9 1016.6,659.8 1017.2,645.2 1017.8,655.3 1018.3,641.8 1018.9,655.0 1019.5,640.1 1020.0,652.1 1020.6,636.9 1021.2,649.3 1021.7,638.3 1022.3,648.0 1022.9,636.9 1023.4,645.4 1024.0,636.5 1024.6,646.6 1025.2,634.9 1025.7,643.0 1026.3,634.1 1026.9,642.1 1027.4,633.4 1028.0,641.5 1028.6,627.9 1029.1,639.2 1029.7,628.0 1030.3,637.6 1030.9,622.2 1031.4,635.2 1032.0,623.7 1032.6,633.6 1033.1,616.6 1033.7,633.5 1034.3,617.1 1034.9,630.6 1035.4,614.9 1036.0,627.2 1036.6,613.4 1037.2,625.1 1037.7,613.4 1038.3,623.2 1038.9,614.1 1039.5,622.0 1040.1,612.6 1040.6,621.3 1041.2,611.0 1041.8,621.0 1042.4,612.8 1043.0,621.4 1043.5,611.6 1044.1,623.0 1044.7,609.6 1045.3,620.4 1045.9,606.1 1046.4,616.9 1047.0,604.0 1047.6,614.5 1048.2,601.8 1048.8,614.8 1049.3,600.4 1049.9,614.0 1050.5,599.8 1051.1,610.8 1051.7,595.9 1052.2,606.9 1052.8,594.9 1053.4,605.6 1054.0,593.6 1054.6,601.7 1055.2,590.2 1055.9,600.1 1056.6,590.5 1057.3,598.1 1058.1,590.9 1058.8,599.2 1059.6,588.5 1060.4,599.4 1061.1,588.2 1061.9,598.6 1062.7,586.5 1063.5,595.5 1064.2,581.6 1065.0,593.7 1065.7,583.3 1066.4,591.1 1067.1,579.8 1067.7,590.0 1068.3,580.6 1068.9,587.9 1069.5,578.8 1070.1,585.0 1070.7,579.5 1071.3,582.7 1071.8,577.6 1072.4,581.0 1073.0,577.0 1073.6,580.3 1074.2,575.1 1074.8,578.7 1075.3,572.7 1075.9,578.5 1076.5,569.3 1077.1,578.7 1077.7,566.2 1078.3,575.6 1078.8,565.5 1079.4,573.9 1080.0,563.6 1080.6,571.7 1081.2,561.4 1081.8,569.4 1082.4,562.4 1082.9,567.3 1083.5,560.5 1084.1,566.9 1084.7,558.3 1085.3,565.5 1085.9,556.8 1086.5,563.8 1087.0,554.0 1087.6,560.3 1088.2,550.1 1088.8,558.3 1089.4,551.5 1090.1,557.6 1090.7,549.5 1091.3,556.1 1091.9,549.9 1092.5,555.4 1093.1,548.0 1093.7,554.0 1094.3,547.2 1094.9,552.8 1095.5,546.1 1096.1,553.5 1096.7,544.9 1097.3,550.9 1097.9,540.8 1098.5,550.6 1099.1,537.2 1099.7,552.7 1100.3,535.0 1100.9,547.2 1101.5,530.3 1102.2,545.7 1102.8,529.9 1103.4,540.8 1104.0,526.7 1104.6,538.5 1105.2,526.2 1105.8,537.8 1106.4,524.8 1107.0,537.2 1107.6,524.4 1108.2,536.7 1108.8,525.7 1109.4,535.8 1110.0,523.5 1110.6,537.4 1111.2,523.1 1111.8,536.2 1112.4,521.4 1113.0,531.7 1113.7,519.4 1114.3,531.0 1114.9,519.0 1115.5,526.9 1116.1,517.1 1116.8,525.9 1117.4,515.4 1118.0,524.0 1118.6,512.5 1119.3,521.1 1119.9,511.2 1120.5,519.2 1121.1,506.9 1121.8,518.5 1122.4,503.4 1123.0,516.1 1123.6,505.0 1124.2,516.3 1124.9,500.6 1125.5,512.8 1126.1,499.5 1126.7,510.8 1127.4,502.3 1128.0,510.4 1128.6,501.6 1129.2,508.9 1129.9,501.1 1130.5,507.0 1131.1,497.6 1131.7,506.5 1132.4,495.9 1133.0,504.5 1133.6,492.7 1134.2,502.4 1134.9,491.2 1135.5,502.2 1136.1,490.1 1136.7,499.7 1137.4,487.9 1138.0,499.4 1138.6,483.5 1139.2,495.9 1139.8,484.8 1140.5,497.5 1141.1,480.1 1141.7,494.7 1142.3,480.1 1142.9,494.0 1143.6,479.7 1144.2,494.9 1144.8,477.4 1145.4,492.0 1146.0,476.0 1146.6,491.0 1147.3,475.5 1147.9,485.0 1148.5,474.4 1149.1,483.4 1149.7,473.6 1150.3,479.5 1151.0,471.4 1151.6,478.4 1152.2,471.5 1152.8,477.2 1153.4,468.7 1154.0,476.5 1154.7,468.6 1155.3,475.1 1155.9,467.1 1156.5,476.7 1157.1,464.0 1157.8,473.1 1158.4,463.1 1159.0,471.5 1159.6,463.1 1160.2,474.0 1160.8,462.0 1161.5,473.6 1162.1,457.9 1162.7,472.0 1163.4,455.1 1164.0,466.8 1164.7,454.2 1165.3,463.0 1166.0,453.6 1166.7,460.0 1167.3,453.4 1168.0,458.5 1168.7,451.9 1169.4,456.6 1170.0,451.0 1170.7,456.3 1171.4,446.8 1172.1,456.5 1172.7,445.6 1173.4,455.8 1174.1,444.1 1174.8,456.8 1175.4,443.6 1176.1,452.8 1176.8,444.5 1177.4,453.2 1178.1,444.1 1178.8,449.7 1179.5,442.7 1180.1,449.3 1180.8,440.8 1181.5,446.4 1182.2,438.4 1182.8,446.7 1183.5,431.6 1184.2,445.5 1184.9,432.1 1185.6,447.0 1186.2,429.7 1186.9,447.4 1187.6,429.8 1188.3,445.9 1189.0,428.4 1189.7,441.3 1190.4,425.9 1191.0,440.5 1191.7,424.7 1192.4,435.0 1193.1,421.6 1193.8,431.8 1194.5,417.7 1195.2,428.6 1195.9,416.9 1196.5,427.2 1197.2,413.5 1197.8,426.0 1198.5,415.5 1199.1,424.7 1199.7,414.2 1200.3,423.2 1200.8,413.8 1201.4,422.6 1202.0,411.7 1202.6,422.3 1203.2,412.1 1203.7,422.8 1204.3,409.0 1204.9,419.7 1205.5,406.0 1206.1,421.0 1206.7,402.7 1207.3,417.1 1207.8,401.2 1208.4,415.5 1209.0,399.6 1209.6,417.5 1210.2,402.2 1210.8,414.9 1211.4,400.5 1212.0,411.6 1212.6,399.5 1213.2,412.7 1213.8,396.3 1214.4,409.6 1215.0,397.1 1215.6,404.7 1216.2,394.4 1216.7,404.5 1217.3,393.6 1217.9,400.8 1218.4,390.8 1219.0,401.6 1219.6,389.5 1220.1,397.5 1220.7,389.8 1221.3,399.5 1221.9,388.1 1222.4,396.6 1223.0,387.0 1223.6,393.3 1224.1,384.8 1224.7,394.4 1225.3,383.5 1225.8,390.7 1226.4,382.9 1227.0,389.7 1227.6,380.7 1228.2,387.8 1228.8,378.2 1229.4,388.2 1230.1,376.4 1230.7,388.8 1231.4,375.2 1232.0,385.7 1232.6,374.2 1233.3,385.0 1233.9,371.0 1234.5,382.1 1235.2,369.5 1235.8,378.7 1236.4,368.0 1237.1,375.7 1237.7,365.0 1238.3,375.7 1239.0,364.8 1239.6,373.6 1240.2,364.7 1240.9,372.0 1241.5,363.5 1242.1,372.3 1242.7,361.3 1243.4,372.4 1244.0,359.4 1244.6,370.8 1245.3,357.6 1245.9,366.9 1246.5,354.9 1247.2,363.5 1247.8,351.5 1248.4,362.1 1249.1,350.1 1249.8,360.0 1250.4,346.8 1251.1,358.0 1251.8,347.5 1252.5,355.9 1253.2,343.8 1253.9,355.8 1254.6,339.3 1255.3,352.9 1256.0,341.1 1256.7,351.7 1257.4,342.2 1258.1,349.9 1258.8,344.2 1259.5,350.1 1260.2,343.5 1260.9,348.2 1261.6,341.6 1262.3,345.3 1263.0,338.9 1263.7,344.1 1264.4,336.7 1265.1,344.2 1265.8,333.7 1266.4,343.5 1267.1,333.5 1267.7,342.1 1268.3,330.8 1269.0,342.3 1269.6,330.3 1270.2,340.7 1270.9,326.0 1271.5,338.5 1272.2,320.9 1272.9,338.6 1273.7,320.4 1274.4,335.8 1275.1,318.2 1275.9,336.4 1276.6,317.5 1277.4,334.2 1278.1,318.8 1278.9,333.7 1279.6,319.5 1280.4,329.6 1281.1,317.8 1281.9,328.8 1282.7,315.4 1283.4,327.5 1284.2,315.3 1285.0,324.6 1285.8,314.2 1286.7,325.4 1287.5,315.4 1288.3,322.6 1289.1,312.6 1290.0,321.7 1290.8,310.4 1291.7,319.9 1292.5,310.6 1293.3,319.6 1294.2,307.6 1295.1,318.3 1295.9,307.8 1296.8,318.7 1297.6,305.5 1298.5,316.0 1299.4,305.5 1300.2,318.4 1301.1,302.8 1301.9,316.8 1302.7,303.8 1303.5,316.1 1304.4,299.7 1305.2,312.0 1306.0,299.1 1306.8,310.1 1307.6,298.2 1308.4,306.6 1309.2,300.0 1310.0,305.8 1310.7,299.5 1311.5,304.2 1312.2,299.1 1312.8,305.7 1313.5,297.7 1314.1,304.8 1314.6,296.5 1315.2,303.1 1315.8,295.0 1316.4,303.8 1317.0,293.4 1317.6,299.7 1318.3,291.6 1319.0,300.2 1319.7,291.1 1320.6,297.8 1321.4,289.8 1322.3,294.5 1323.1,287.9 1324.0,294.5 1324.9,284.9 1325.8,293.6 1326.7,284.8 1327.5,292.5 1328.4,284.1 1329.3,295.9 1330.2,283.5 1331.1,293.6 1332.0,281.2 1332.8,291.6 1333.7,281.4 1334.6,293.0 1335.5,278.6 1336.4,289.0 1337.3,277.6 1338.2,288.2 1339.0,277.7 1339.9,286.7 1340.8,275.4 1341.7,288.4 1342.6,272.4 1343.5,287.2 1344.4,274.1 1345.3,286.1 1346.2,272.7 1347.2,286.1 1348.1,272.2 1349.1,283.3 1350.1,269.8 1351.1,280.8 1352.1,269.0 1353.1,281.6 1354.0,272.5 1355.0,281.8 1356.0,273.9 1356.9,283.8 1357.9,272.1 1358.0,279.5" fill="none" stroke="#FFB400" stroke-width="8.0" stroke-linejoin="round" stroke-linecap="butt" shape-rendering="crispEdges"/>
<polyline clip-path="url(#ci)" points="883.5,1061.0 884.1,1058.2 884.6,1071.3 885.2,1057.2 885.8,1066.5 886.3,1055.2 886.8,1066.4 887.3,1053.2 887.8,1063.8 888.2,1051.3 888.7,1059.3 889.2,1048.8 889.7,1055.0 890.1,1046.4 890.6,1052.0 891.1,1043.4 891.6,1048.6 892.0,1042.1 892.5,1047.6 893.0,1041.8 893.5,1045.9 893.9,1040.9 894.4,1044.1 894.9,1038.6 895.4,1045.3 895.8,1036.2 896.3,1043.6 896.8,1030.8 897.2,1044.0 897.7,1028.3 898.2,1040.3 898.7,1025.3 899.1,1039.0 899.6,1023.1 900.1,1038.8 900.6,1020.3 901.0,1035.7 901.5,1020.7 902.0,1034.1 902.4,1021.1 902.9,1030.3 903.4,1017.0 903.9,1028.1 904.3,1017.1 904.8,1026.7 905.3,1010.0 905.8,1025.8 906.2,1009.5 906.7,1021.9 907.2,1009.8 907.7,1020.0 908.1,1011.4 908.6,1020.5 909.1,1011.6 909.6,1017.4 910.1,1009.4 910.6,1017.7 911.1,1007.7 911.6,1013.3 912.1,1005.8 912.5,1012.9 913.0,1001.4 913.5,1010.7 914.0,1001.4 914.5,1009.3 915.0,996.6 915.5,1010.8 916.0,998.1 916.5,1006.9 917.0,995.0 917.5,1009.0 918.0,995.9 918.5,1008.4 919.0,993.3 919.5,1005.1 920.0,991.1 920.5,1001.6 921.0,990.3 921.5,999.5 922.0,985.9 922.5,995.4 923.0,984.7 923.5,993.7 924.0,982.9 924.5,992.6 925.0,979.6 925.5,990.5 926.0,979.1 926.5,989.6 927.0,978.2 927.5,986.6 928.0,974.9 928.5,983.1 929.0,975.0 929.5,981.4 930.0,970.4 930.5,983.2 931.0,969.8 931.5,981.0 932.0,967.6 932.5,982.4 933.0,966.8 933.5,980.2 934.0,966.8 934.5,976.2 935.1,966.6 935.6,973.4 936.1,966.4 936.6,973.3 937.2,964.2 937.7,970.6 938.2,962.6 938.7,967.1 939.3,958.1 939.8,965.8 940.3,957.4 940.9,966.8 941.4,955.3 941.9,966.1 942.5,953.5 943.0,967.4 943.5,952.4 944.0,963.0 944.6,950.9 945.1,962.6 945.6,947.8 946.2,957.3 946.7,944.6 947.2,954.5 947.7,941.3 948.3,954.1 948.8,940.9 949.3,953.6 949.9,939.7 950.4,950.8 950.9,935.5 951.5,948.6 952.0,932.8 952.5,945.4 953.0,932.1 953.6,945.3 954.1,932.1 954.6,942.0 955.2,928.3 955.7,942.1 956.2,931.0 956.7,939.9 957.3,928.2 957.8,938.2 958.3,927.2 958.9,936.9 959.4,926.2 959.9,936.5 960.4,924.6 961.0,934.1 961.5,921.0 962.0,933.7 962.5,918.2 963.0,933.9 963.6,917.6 964.1,930.8 964.6,916.7 965.1,925.1 965.6,913.9 966.1,924.5 966.7,912.7 967.2,922.9 967.7,912.3 968.2,922.8 968.7,908.4 969.2,924.3 969.7,906.4 970.3,921.6 970.8,903.7 971.3,918.4 971.8,904.3 972.3,914.7 972.8,902.2 973.4,912.2 973.9,900.2 974.4,912.0 974.9,898.8 975.4,909.6 975.9,898.9 976.4,905.7 977.0,897.4 977.5,905.0 978.0,894.9 978.5,904.0 979.0,892.8 979.5,903.4 980.0,889.6 980.6,902.8 981.1,887.3 981.6,899.4 982.1,882.4 982.6,898.3 983.1,882.4 983.7,896.5 984.2,882.3 984.7,892.7 985.2,876.5 985.7,888.8 986.2,878.7 986.8,886.5 987.3,872.7 987.8,885.8 988.4,873.7 988.9,884.1 989.5,869.8 990.0,885.0 990.5,871.3 991.1,884.4 991.6,871.1 992.2,882.4 992.7,868.0 993.3,883.1 993.8,864.4 994.4,881.8 994.9,864.3 995.4,879.6 996.0,864.0 996.5,876.9 997.1,862.2 997.6,874.8 998.2,860.9 998.7,872.9 999.3,860.5 999.8,872.8 1000.3,859.5 1000.9,869.6 1001.4,858.8 1002.0,866.5 1002.5,856.1 1003.1,868.7 1003.6,852.0 1004.2,866.8 1004.7,851.2 1005.3,865.3 1005.8,850.8 1006.3,864.6 1006.9,851.2 1007.4,862.4 1008.0,849.8 1008.5,860.7 1009.1,847.4 1009.6,858.4 1010.2,844.0 1010.7,854.8 1011.2,842.3 1011.8,851.1 1012.3,838.7 1012.9,848.9 1013.4,838.4 1014.0,847.8 1014.5,838.1 1015.1,845.7 1015.6,837.7 1016.2,847.3 1016.7,835.4 1017.3,843.1 1017.8,833.1 1018.4,844.2 1019.0,828.3 1019.5,841.4 1020.1,825.3 1020.6,839.7 1021.2,826.2 1021.7,837.7 1022.3,823.3 1022.9,840.8 1023.4,822.9 1024.0,836.0 1024.5,820.0 1025.1,837.1 1025.6,818.8 1026.2,834.0 1026.8,821.0 1027.3,830.7 1027.9,818.8 1028.4,829.4 1029.0,818.3 1029.5,827.5 1030.1,816.1 1030.6,826.2 1031.1,814.5 1031.6,821.0 1032.1,810.7 1032.6,819.1 1033.1,805.6 1033.5,814.8 1034.0,804.0 1034.5,812.6 1035.0,803.7 1035.5,811.3 1036.0,798.5 1036.4,811.3 1036.9,798.1 1037.4,810.8 1037.9,794.7 1038.4,807.8 1038.9,796.3 1039.3,808.7 1039.8,793.4 1040.3,807.5 1040.8,794.0 1041.3,804.3 1041.8,792.3 1042.2,803.2 1042.7,791.3 1043.2,803.5 1043.7,789.9 1044.2,800.3 1044.7,786.8 1045.1,798.1 1045.6,784.7 1046.1,796.5 1046.6,784.3 1047.1,793.9 1047.6,779.2 1048.1,793.0 1048.5,779.6 1049.0,790.0 1049.5,778.4 1050.0,786.8 1050.6,778.1 1051.1,785.2 1051.6,777.6 1052.1,783.8 1052.6,776.1 1053.1,783.8 1053.7,774.3 1054.2,783.5 1054.7,770.7 1055.2,783.7 1055.7,769.2 1056.3,778.4 1056.8,766.1 1057.3,779.1 1057.8,764.7 1058.4,777.1 1058.9,762.2 1059.4,772.2 1060.0,762.0 1060.5,770.5 1061.1,759.9 1061.7,770.1 1062.2,754.2 1062.8,770.1 1063.4,754.1 1064.0,766.9 1064.6,751.2 1065.1,767.2 1065.7,748.9 1066.3,761.9 1066.9,748.6 1067.5,759.5 1068.1,747.2 1068.6,759.0 1069.2,745.8 1069.8,755.8 1070.4,744.5 1071.0,756.8 1071.5,745.3 1072.1,754.6 1072.7,744.4 1073.3,755.8 1073.9,743.4 1074.5,754.6 1075.0,740.7 1075.6,754.3 1076.2,740.6 1076.8,750.4 1077.4,738.6 1077.9,748.6 1078.5,734.3 1079.1,748.7 1079.7,732.1 1080.3,743.4 1080.8,729.0 1081.4,742.4 1081.9,727.6 1082.5,741.8 1083.0,726.0 1083.6,739.6 1084.1,724.9 1084.6,737.3 1085.2,722.5 1085.7,736.5 1086.2,722.5 1086.7,735.2 1087.3,719.6 1087.8,733.6 1088.3,718.0 1088.9,735.7 1089.4,718.2 1089.9,731.6 1090.4,717.0 1091.0,728.2 1091.5,713.8 1092.0,728.8 1092.6,708.6 1093.1,727.7 1093.6,708.0 1094.1,726.8 1094.7,708.3 1095.2,725.2 1095.7,705.3 1096.3,721.2 1096.8,707.7 1097.3,721.9 1097.8,703.7 1098.4,716.1 1098.9,704.6 1099.4,718.6 1100.0,703.4 1100.5,714.6 1101.0,701.0 1101.5,710.1 1102.1,700.2 1102.6,710.8 1103.1,697.2 1103.7,709.3 1104.2,696.0 1104.7,709.1 1105.3,695.6 1105.8,707.8 1106.3,691.6 1106.9,702.9 1107.4,690.5 1107.9,701.4 1108.5,686.7 1109.0,698.5 1109.5,686.8 1110.0,697.8 1110.6,685.4 1111.1,696.5 1111.6,684.0 1112.2,692.7 1112.7,683.8 1113.2,689.7 1113.8,681.5 1114.3,689.0 1114.8,680.8 1115.4,687.6 1115.9,680.2 1116.4,685.5 1117.0,677.1 1117.5,682.1 1118.0,674.5 1118.6,680.5 1119.1,670.7 1119.6,678.4 1120.2,666.0 1120.7,676.0 1121.2,666.6 1121.7,674.8 1122.3,665.2 1122.8,675.1 1123.3,660.6 1123.9,673.3 1124.4,661.7 1125.0,672.3 1125.5,661.0 1126.1,670.1 1126.6,661.1 1127.2,669.6 1127.7,659.5 1128.3,668.5 1128.8,657.2 1129.4,664.9 1129.9,656.3 1130.5,663.7 1131.0,654.9 1131.6,661.5 1132.1,651.5 1132.7,661.3 1133.2,650.7 1133.8,658.4 1134.3,647.1 1134.9,658.6 1135.5,643.2 1136.0,658.7 1136.6,640.9 1137.1,655.6 1137.7,638.6 1138.2,651.2 1138.8,638.7 1139.3,648.0 1139.9,636.8 1140.4,646.2 1141.0,634.0 1141.5,645.4 1142.1,634.7 1142.6,644.9 1143.2,632.2 1143.8,643.5 1144.3,630.6 1144.9,643.3 1145.4,632.3 1146.0,642.4 1146.6,631.5 1147.2,640.2 1147.8,630.0 1148.4,638.1 1149.0,628.4 1149.6,636.4 1150.2,624.4 1150.8,638.3 1151.4,622.9 1152.0,636.8 1152.7,619.7 1153.3,632.4 1153.9,618.5 1154.5,633.9 1155.1,615.4 1155.7,631.4 1156.3,615.2 1156.9,629.1 1157.5,615.0 1158.2,630.3 1158.8,613.8 1159.4,626.7 1160.0,610.8 1160.6,626.1 1161.2,609.6 1161.8,622.3 1162.4,605.7 1163.0,619.0 1163.6,603.3 1164.3,617.2 1164.9,604.6 1165.5,619.8 1166.1,604.0 1166.7,615.8 1167.3,602.1 1167.9,614.6 1168.5,603.6 1169.1,613.4 1169.8,600.2 1170.4,612.1 1171.0,599.2 1171.6,611.0 1172.2,596.3 1172.8,610.9 1173.4,594.2 1174.0,605.2 1174.6,590.8 1175.2,606.2 1175.8,589.1 1176.5,601.4 1177.1,587.7 1177.7,600.2 1178.3,587.3 1178.9,598.2 1179.5,586.7 1180.1,594.9 1180.7,585.3 1181.3,593.0 1181.9,581.5 1182.5,592.9 1183.2,582.0 1183.8,588.7 1184.4,580.3 1185.0,587.1 1185.6,579.8 1186.2,585.0 1186.8,577.1 1187.4,583.5 1188.0,574.6 1188.7,581.9 1189.3,574.8 1189.9,580.5 1190.6,572.2 1191.3,578.7 1191.9,569.8 1192.6,580.7 1193.2,569.1 1193.9,579.3 1194.6,568.8 1195.2,579.9 1195.9,563.6 1196.6,579.7 1197.3,565.3 1197.9,578.7 1198.6,561.4 1199.3,577.7 1199.9,562.0 1200.6,574.3 1201.3,559.9 1201.9,570.1 1202.6,559.7 1203.3,570.1 1203.9,556.5 1204.6,565.7 1205.3,558.0 1205.9,565.8 1206.6,556.6 1207.3,562.4 1207.9,555.5 1208.6,560.7 1209.2,554.5 1209.8,560.0 1210.5,550.1 1211.1,559.9 1211.7,549.0 1212.4,558.8 1213.0,544.8 1213.6,558.7 1214.3,543.2 1214.9,558.0 1215.5,544.5 1216.1,554.8 1216.8,540.8 1217.4,552.8 1218.0,541.0 1218.7,552.3 1219.3,540.2 1219.9,550.3 1220.5,535.9 1221.2,548.3 1221.8,533.2 1222.4,546.0 1223.0,533.8 1223.7,543.5 1224.3,527.9 1224.9,543.6 1225.6,527.4 1226.2,543.3 1226.8,527.6 1227.4,539.7 1228.1,521.2 1228.7,539.6 1229.3,520.3 1230.0,537.3 1230.6,523.7 1231.2,535.5 1231.8,523.1 1232.5,535.2 1233.1,520.9 1233.7,534.7 1234.3,519.6 1234.9,536.9 1235.5,517.8 1236.1,533.8 1236.7,515.2 1237.4,532.5 1238.0,515.8 1238.6,530.6 1239.2,510.4 1239.8,527.6 1240.4,508.6 1241.0,522.6 1241.6,507.9 1242.2,522.5 1242.9,506.9 1243.5,519.0 1244.1,508.1 1244.7,517.4 1245.3,507.2 1245.9,516.6 1246.5,507.2 1247.1,513.7 1247.7,504.9 1248.4,511.3 1249.0,503.8 1249.6,510.0 1250.2,500.4 1250.8,507.3 1251.4,498.8 1252.0,506.6 1252.6,494.0 1253.2,504.3 1253.8,491.2 1254.4,504.6 1255.0,493.3 1255.6,504.3 1256.2,493.1 1256.8,503.3 1257.3,492.0 1257.9,500.8 1258.5,491.6 1259.1,498.3 1259.7,490.2 1260.2,497.8 1260.8,486.8 1261.4,496.8 1262.0,483.7 1262.6,493.1 1263.2,481.2 1263.7,491.1 1264.3,479.5 1264.9,489.9 1265.5,479.2 1266.1,487.2 1266.6,480.0 1267.2,488.0 1267.8,477.4 1268.4,485.5 1269.0,473.6 1269.5,483.8 1270.1,470.7 1270.7,483.2 1271.3,463.7 1271.9,480.9 1272.5,464.1 1273.0,480.0 1273.6,462.2 1274.2,479.3 1274.8,459.1 1275.4,477.3 1276.0,459.3 1276.6,475.6 1277.2,462.1 1277.8,474.6 1278.4,459.8 1279.0,471.8 1279.6,460.0 1280.2,469.6 1280.8,459.7 1281.4,469.4 1282.1,457.4 1282.7,466.5 1283.3,457.8 1283.9,466.4 1284.5,455.0 1285.1,464.9 1285.7,452.8 1286.3,463.6 1286.9,451.2 1287.5,460.5 1288.2,448.1 1288.8,460.8 1289.4,446.0 1290.0,457.7 1290.6,445.2 1291.2,453.9 1291.8,443.5 1292.4,454.2 1293.0,442.2 1293.6,452.9 1294.2,439.7 1294.9,450.9 1295.5,439.2 1296.1,449.1 1296.7,439.6 1297.3,447.2 1298.0,438.0 1298.6,446.9 1299.2,437.3 1299.9,444.5 1300.5,435.8 1301.2,445.8 1301.8,433.5 1302.5,441.7 1303.1,429.0 1303.8,445.4 1304.4,425.8 1305.0,441.5 1305.7,423.8 1306.3,440.9 1307.0,423.2 1307.6,437.0 1308.3,422.3 1308.9,434.7 1309.6,420.2 1310.2,433.6 1310.9,420.7 1311.5,429.0 1312.2,420.0 1312.9,427.3 1313.6,419.4 1314.4,425.8 1315.1,416.9 1315.8,422.7 1316.6,415.5 1317.3,422.2 1318.0,413.9 1318.8,421.1 1319.5,410.9 1320.2,420.1 1320.9,409.7 1321.6,419.8 1322.3,406.9 1323.0,418.1 1323.6,405.7 1324.3,416.9 1325.0,402.5 1325.7,416.3 1326.4,403.1 1327.1,412.9 1327.8,401.3 1328.5,413.4 1329.2,401.1 1329.9,411.7 1330.6,399.3 1331.3,410.1 1332.0,398.1 1332.6,409.2 1333.3,399.2 1334.0,408.8 1334.6,396.4 1335.3,408.9 1335.9,394.9 1336.5,407.7 1337.2,392.7 1337.8,403.9 1338.4,391.9 1339.1,402.1 1339.7,390.1 1340.4,403.7 1341.1,388.3 1341.7,401.5 1342.4,385.7 1343.1,398.1 1343.8,380.1 1344.5,394.7 1345.2,380.5 1345.9,393.4 1346.6,381.9 1347.3,391.5 1348.0,381.1 1348.7,389.9 1349.4,380.0 1350.0,389.5 1350.7,377.8 1351.4,390.6 1352.1,376.4 1352.8,387.4 1353.5,376.0 1354.2,386.4 1354.8,374.3 1355.5,384.6 1356.2,373.1 1356.8,381.3 1357.4,371.9 1358.1,378.7 1358.7,371.4 1359.3,378.0 1359.9,369.9 1360.6,374.5 1361.2,368.9 1361.9,373.2 1362.6,368.7 1363.2,372.9 1363.9,367.2 1364.6,373.3 1365.3,365.2 1366.0,371.6 1366.7,363.9 1367.4,370.9 1368.0,361.1 1368.7,371.6 1369.4,359.4 1370.1,366.9 1370.8,359.0 1371.5,367.8 1372.2,357.6 1372.9,365.8 1373.6,355.7 1374.3,363.2 1374.9,353.8 1375.6,362.7 1376.3,350.1 1377.0,362.1 1377.6,347.7 1378.3,359.7 1378.9,348.7 1379.6,357.9 1380.2,348.0 1380.8,358.6 1381.5,346.7 1382.1,356.3 1382.8,345.9 1383.4,352.7 1384.1,344.5 1384.8,352.2 1385.4,342.4 1386.1,351.3 1386.8,340.3 1387.5,349.6 1388.2,338.8 1388.8,346.2 1389.5,336.1 1390.2,344.1 1390.9,334.4 1391.6,340.3 1392.3,332.5 1392.9,338.5 1393.6,332.3 1394.3,337.4 1395.0,330.0 1395.6,336.7 1396.3,327.9 1397.0,335.5 1397.6,323.4 1398.3,334.9 1398.9,323.1 1399.6,333.4 1400.3,321.8 1400.9,333.9 1401.6,323.3 1402.2,332.3 1402.9,321.5 1403.5,330.8 1404.1,321.4 1404.6,329.0 1405.2,318.8 1405.6,327.8 1406.1,316.0 1406.5,323.8 1407.0,315.5 1407.4,323.2 1407.8,313.8 1408.3,320.9 1408.8,309.7 1409.4,318.1 1410.0,308.5 1410.6,319.2 1411.3,303.6 1412.0,316.9 1412.7,303.3 1413.5,315.6 1414.2,302.3 1414.9,312.6 1415.6,301.2 1416.3,312.2 1417.1,299.1 1417.8,310.7 1418.5,299.5 1419.2,310.5 1420.0,297.7 1420.7,311.1 1421.4,294.0 1422.1,310.4 1422.8,292.6 1423.5,309.8 1424.2,292.0 1424.9,308.6 1425.6,290.2 1426.3,304.3 1426.9,291.7 1427.7,301.4 1428.4,287.9 1429.1,300.7 1429.9,289.2 1430.6,304.7 1431.4,287.3 1432.1,299.3 1432.9,284.6 1433.6,302.5 1434.4,283.2 1435.1,298.8 1435.9,281.6 1436.6,299.4 1437.4,279.9 1438.1,292.4 1438.9,279.1 1439.6,291.7 1440.4,277.7 1441.2,290.1 1441.9,278.6 1442.7,292.1 1443.6,278.7 1444.4,290.0 1445.3,275.7 1446.2,286.7 1447.1,275.6 1448.0,285.5 1448.9,272.7 1449.8,284.7 1450.8,272.5 1451.7,287.1 1452.6,273.4 1453.5,284.4 1454.4,271.5 1455.4,283.2 1456.3,269.1 1457.2,282.9 1458.2,268.2 1459.1,285.0 1460.1,268.0 1461.1,282.9 1462.1,270.1 1463.1,285.3 1464.1,267.3 1465.0,281.5 1466.0,269.3 1467.0,282.1 1468.0,268.2 1469.0,283.5 1470.0,268.9 1471.0,281.0 1472.0,268.0 1473.0,281.4 1473.8,273.4" fill="none" stroke="#56B4E9" stroke-width="8.0" stroke-linejoin="round" stroke-linecap="butt" shape-rendering="crispEdges"/>
<polyline clip-path="url(#ci)" points="1004.0,1061.0 1004.6,1053.6 1005.1,1068.2 1005.7,1047.2 1006.3,1062.9 1006.8,1045.5 1007.4,1061.5 1007.9,1045.9 1008.5,1059.2 1009.0,1044.9 1009.6,1057.7 1010.1,1044.8 1010.6,1056.4 1011.2,1042.3 1011.7,1054.0 1012.3,1042.8 1012.8,1051.9 1013.3,1039.5 1013.9,1050.1 1014.4,1038.4 1015.0,1050.1 1015.5,1036.0 1016.0,1048.7 1016.6,1032.4 1017.1,1047.9 1017.7,1032.2 1018.2,1047.9 1018.7,1031.3 1019.3,1043.0 1019.8,1030.8 1020.4,1040.9 1020.9,1029.4 1021.4,1041.0 1022.0,1030.4 1022.5,1038.1 1023.1,1028.1 1023.6,1035.3 1024.1,1026.4 1024.7,1032.9 1025.2,1022.5 1025.8,1030.0 1026.3,1020.6 1026.8,1029.0 1027.4,1018.0 1027.9,1026.9 1028.5,1018.0 1029.0,1024.8 1029.6,1018.9 1030.1,1025.0 1030.6,1017.8 1031.2,1023.5 1031.7,1015.9 1032.2,1024.5 1032.8,1014.0 1033.3,1024.9 1033.8,1011.6 1034.4,1020.7 1034.9,1008.6 1035.4,1021.4 1035.9,1007.1 1036.4,1015.2 1036.9,1002.5 1037.4,1014.5 1037.9,1002.1 1038.4,1010.6 1038.9,1001.3 1039.4,1010.1 1039.9,1001.0 1040.4,1007.9 1040.9,1000.1 1041.4,1006.7 1041.8,998.2 1042.3,1005.9 1042.8,996.0 1043.3,1004.6 1043.8,993.9 1044.3,1003.1 1044.8,992.2 1045.3,1001.7 1045.8,990.7 1046.3,998.5 1046.8,988.9 1047.3,997.6 1047.8,985.4 1048.3,996.4 1048.8,982.1 1049.3,996.3 1049.8,981.6 1050.3,991.2 1050.8,977.7 1051.3,989.5 1051.8,976.7 1052.3,986.7 1052.8,977.1 1053.2,986.6 1053.7,973.4 1054.2,982.6 1054.7,972.1 1055.2,983.3 1055.7,969.8 1056.2,980.7 1056.7,969.3 1057.2,979.3 1057.7,964.3 1058.2,978.3 1058.7,963.6 1059.2,978.0 1059.8,960.0 1060.3,975.6 1060.8,955.5 1061.3,971.6 1061.9,954.0 1062.4,970.5 1062.9,957.6 1063.4,970.6 1064.0,956.7 1064.5,972.0 1065.0,952.3 1065.6,968.7 1066.1,954.2 1066.6,967.7 1067.2,953.7 1067.7,965.8 1068.2,953.2 1068.7,963.0 1069.3,951.9 1069.8,961.4 1070.3,950.2 1070.9,958.2 1071.4,948.7 1071.9,953.9 1072.4,947.1 1073.0,953.2 1073.5,945.7 1074.0,951.2 1074.6,941.5 1075.1,949.5 1075.6,940.5 1076.2,948.7 1076.7,939.6 1077.2,947.7 1077.7,937.9 1078.3,945.1 1078.8,937.5 1079.3,943.7 1079.9,935.9 1080.4,942.0 1080.9,932.7 1081.4,941.6 1082.0,930.1 1082.5,941.6 1083.0,927.7 1083.6,938.8 1084.1,925.8 1084.6,934.5 1085.1,924.7 1085.7,933.4 1086.2,921.5 1086.7,931.1 1087.2,918.4 1087.7,929.8 1088.3,915.9 1088.8,929.7 1089.3,914.0 1089.8,928.2 1090.3,914.8 1090.8,925.0 1091.3,914.0 1091.9,924.2 1092.4,913.3 1092.9,921.2 1093.4,910.3 1093.9,918.0 1094.4,908.6 1094.9,917.8 1095.5,907.1 1096.0,915.8 1096.5,903.0 1097.0,916.3 1097.5,901.6 1098.0,915.8 1098.5,902.1 1099.0,915.5 1099.6,900.4 1100.1,911.3 1100.6,898.4 1101.1,912.5 1101.6,898.2 1102.1,909.3 1102.6,896.9 1103.2,905.6 1103.7,893.2 1104.2,901.1 1104.7,889.7 1105.2,900.7 1105.7,886.6 1106.2,898.7 1106.7,887.8 1107.3,895.8 1107.8,882.5 1108.3,892.3 1108.8,883.2 1109.3,891.3 1109.8,883.8 1110.4,889.8 1110.9,881.2 1111.4,891.1 1111.9,880.9 1112.5,891.0 1113.0,878.4 1113.6,890.2 1114.1,876.8 1114.7,887.1 1115.3,873.5 1115.8,884.8 1116.4,870.4 1116.9,884.4 1117.5,870.2 1118.1,881.0 1118.6,867.3 1119.2,878.6 1119.7,867.2 1120.3,876.6 1120.9,866.5 1121.4,875.5 1122.0,866.4 1122.5,874.6 1123.1,864.9 1123.7,875.8 1124.2,862.7 1124.8,876.5 1125.3,859.9 1125.9,874.7 1126.5,858.1 1127.0,869.7 1127.6,857.0 1128.1,872.4 1128.7,855.3 1129.3,867.7 1129.8,854.3 1130.4,865.0 1130.9,852.3 1131.5,863.4 1132.0,848.9 1132.6,862.8 1133.2,846.4 1133.7,862.0 1134.3,846.9 1134.8,860.6 1135.4,845.3 1136.0,859.5 1136.5,843.8 1137.1,854.4 1137.6,842.0 1138.2,853.3 1138.8,839.4 1139.3,848.6 1139.9,836.9 1140.5,846.9 1141.0,834.7 1141.6,843.8 1142.2,833.1 1142.7,843.1 1143.3,831.4 1143.9,841.8 1144.5,828.7 1145.1,840.9 1145.6,826.2 1146.2,839.4 1146.8,824.5 1147.4,837.0 1147.9,825.9 1148.5,833.6 1149.1,821.1 1149.7,833.8 1150.3,821.8 1150.8,831.2 1151.4,820.1 1152.0,829.7 1152.6,820.5 1153.1,829.8 1153.7,819.1 1154.3,829.0 1154.9,816.4 1155.4,826.6 1156.0,813.7 1156.6,824.6 1157.2,814.2 1157.8,821.7 1158.3,810.0 1158.9,819.3 1159.5,805.8 1160.1,817.0 1160.6,802.5 1161.2,816.5 1161.8,805.0 1162.4,815.4 1162.9,800.9 1163.5,815.2 1164.1,800.9 1164.7,813.8 1165.2,799.2 1165.8,812.0 1166.4,796.3 1167.0,811.6 1167.5,793.4 1168.1,809.8 1168.7,791.9 1169.3,806.8 1169.8,793.3 1170.4,806.9 1171.0,791.7 1171.6,804.7 1172.1,792.5 1172.7,803.2 1173.3,790.5 1173.9,800.5 1174.4,790.9 1175.0,799.7 1175.6,790.2 1176.2,797.7 1176.7,788.9 1177.3,794.3 1177.9,786.6 1178.5,793.5 1179.0,782.6 1179.6,794.3 1180.2,781.4 1180.8,793.2 1181.3,777.1 1181.9,792.0 1182.5,778.1 1183.0,790.2 1183.5,776.0 1184.1,791.5 1184.6,774.5 1185.2,787.5 1185.7,771.6 1186.2,782.0 1186.8,770.4 1187.3,779.3 1187.8,763.5 1188.3,777.2 1188.9,760.4 1189.4,774.1 1189.9,761.8 1190.5,771.9 1191.0,757.2 1191.5,769.9 1192.1,760.2 1192.6,768.0 1193.1,757.4 1193.7,766.6 1194.2,752.7 1194.7,764.9 1195.2,750.6 1195.8,762.9 1196.3,750.4 1196.8,761.4 1197.4,751.3 1197.9,759.6 1198.4,749.0 1199.0,757.9 1199.5,750.6 1200.0,755.9 1200.6,745.8 1201.1,755.0 1201.6,744.2 1202.1,753.0 1202.7,743.4 1203.2,751.0 1203.7,742.0 1204.3,749.9 1204.8,738.9 1205.4,748.8 1205.9,737.6 1206.5,747.8 1207.0,737.0 1207.6,746.4 1208.2,733.8 1208.7,744.7 1209.3,734.1 1209.8,744.4 1210.4,734.3 1210.9,745.5 1211.5,733.0 1212.0,744.7 1212.6,728.6 1213.2,742.8 1213.7,728.6 1214.3,742.1 1214.8,724.3 1215.4,739.3 1215.9,724.5 1216.5,741.7 1217.0,720.4 1217.6,737.0 1218.2,719.8 1218.7,734.2 1219.3,717.1 1219.8,731.2 1220.4,718.3 1220.9,729.0 1221.5,713.7 1222.0,725.5 1222.6,712.9 1223.2,724.0 1223.7,711.0 1224.3,722.7 1224.8,708.2 1225.4,719.4 1225.9,708.8 1226.5,720.5 1227.0,706.9 1227.5,720.5 1228.1,707.1 1228.6,719.5 1229.1,704.5 1229.6,715.2 1230.2,698.5 1230.7,710.2 1231.2,695.3 1231.8,707.5 1232.3,694.9 1232.8,706.3 1233.3,694.3 1233.9,705.1 1234.4,691.8 1234.9,705.7 1235.5,692.8 1236.0,705.7 1236.5,691.1 1237.0,701.7 1237.6,688.4 1238.1,701.5 1238.6,689.3 1239.2,699.7 1239.7,687.4 1240.2,696.8 1240.8,687.7 1241.3,697.0 1241.8,686.3 1242.3,692.2 1242.9,682.7 1243.4,691.1 1243.9,680.0 1244.5,689.5 1245.0,678.4 1245.5,688.8 1246.0,671.6 1246.6,687.3 1247.1,670.5 1247.6,685.3 1248.2,669.9 1248.7,684.5 1249.2,669.7 1249.7,684.2 1250.3,669.7 1250.8,681.7 1251.3,666.3 1251.9,680.9 1252.4,669.1 1252.9,680.0 1253.4,667.4 1254.0,675.9 1254.5,665.7 1255.0,672.9 1255.6,664.8 1256.1,672.8 1256.6,663.2 1257.1,671.1 1257.7,661.0 1258.2,668.1 1258.7,656.6 1259.3,669.3 1259.8,654.2 1260.3,669.0 1260.8,649.0 1261.4,664.4 1261.9,651.9 1262.4,666.2 1263.0,652.2 1263.5,664.6 1264.0,652.6 1264.6,660.8 1265.1,650.3 1265.6,658.6 1266.1,649.6 1266.7,658.1 1267.2,647.4 1267.7,654.4 1268.3,644.8 1268.8,652.4 1269.4,641.2 1269.9,651.0 1270.5,636.6 1271.1,649.7 1271.7,635.4 1272.3,647.4 1272.8,635.1 1273.4,644.3 1274.0,633.8 1274.6,642.3 1275.2,630.2 1275.7,642.1 1276.3,628.9 1276.9,639.6 1277.5,629.2 1278.1,637.5 1278.7,628.9 1279.2,635.9 1279.8,625.9 1280.4,634.9 1281.0,624.3 1281.6,635.9 1282.1,624.0 1282.7,635.3 1283.3,623.4 1283.9,633.0 1284.5,619.3 1285.1,632.6 1285.6,615.5 1286.2,629.9 1286.8,612.1 1287.4,626.7 1288.0,612.6 1288.5,624.4 1289.1,610.2 1289.7,620.0 1290.3,611.3 1290.8,617.8 1291.4,606.4 1292.0,615.6 1292.5,607.9 1293.1,614.3 1293.6,605.5 1294.2,612.6 1294.7,604.4 1295.3,612.7 1295.9,598.3 1296.4,611.2 1297.0,597.6 1297.5,610.2 1298.1,599.1 1298.6,608.6 1299.2,597.8 1299.8,607.3 1300.3,595.5 1300.9,604.8 1301.4,592.4 1302.0,603.6 1302.5,587.9 1303.1,602.4 1303.6,586.6 1304.2,601.2 1304.8,585.7 1305.3,602.7 1305.9,586.8 1306.4,598.6 1307.0,584.3 1307.5,595.5 1308.1,583.9 1308.6,594.0 1309.2,583.1 1309.8,591.3 1310.3,581.4 1310.9,590.9 1311.4,580.2 1312.0,590.1 1312.6,575.6 1313.2,588.4 1313.8,576.5 1314.4,585.3 1315.0,575.1 1315.6,586.2 1316.2,570.3 1316.8,584.2 1317.4,571.0 1318.0,583.2 1318.6,569.3 1319.2,581.6 1319.8,567.7 1320.4,578.5 1321.0,566.2 1321.6,578.8 1322.2,562.9 1322.8,579.4 1323.4,560.5 1324.0,573.6 1324.6,559.4 1325.2,572.4 1325.8,559.4 1326.4,570.7 1327.0,558.3 1327.6,567.9 1328.2,553.7 1328.8,565.3 1329.4,550.5 1329.9,564.2 1330.5,550.7 1331.1,562.9 1331.7,550.5 1332.2,561.4 1332.8,547.3 1333.3,562.2 1333.9,548.4 1334.4,563.0 1335.0,547.0 1335.5,558.4 1336.1,548.1 1336.7,557.4 1337.2,544.3 1337.8,557.2 1338.3,542.8 1338.9,554.0 1339.4,540.8 1340.0,550.2 1340.5,537.7 1341.1,549.3 1341.6,536.6 1342.2,547.0 1342.7,532.9 1343.3,546.5 1343.8,532.8 1344.4,542.2 1345.0,533.1 1345.5,539.5 1346.1,532.4 1346.6,538.3 1347.2,530.8 1347.7,537.9 1348.3,529.0 1348.8,537.1 1349.4,524.9 1349.9,533.9 1350.5,522.6 1351.0,533.1 1351.6,521.3 1352.2,530.8 1352.7,519.1 1353.3,530.1 1353.8,516.4 1354.4,525.6 1354.9,514.7 1355.5,523.6 1356.0,513.5 1356.6,521.9 1357.1,513.4 1357.7,519.8 1358.2,511.2 1358.8,518.7 1359.4,509.1 1359.9,517.9 1360.5,508.0 1361.0,517.3 1361.6,508.6 1362.1,517.4 1362.7,504.9 1363.2,515.2 1363.8,503.9 1364.3,513.1 1364.9,504.3 1365.5,511.8 1366.0,502.7 1366.6,509.3 1367.1,499.8 1367.7,507.5 1368.2,497.7 1368.8,507.7 1369.3,496.5 1369.9,506.7 1370.4,495.7 1371.0,504.6 1371.5,492.8 1372.1,503.7 1372.7,491.2 1373.2,501.3 1373.8,489.9 1374.3,502.8 1374.9,489.6 1375.4,500.7 1376.0,487.0 1376.6,496.1 1377.1,485.4 1377.7,495.6 1378.3,483.5 1378.8,492.5 1379.4,479.5 1380.0,491.0 1380.6,479.3 1381.2,491.8 1381.8,479.7 1382.3,487.5 1382.9,476.7 1383.5,485.9 1384.1,475.5 1384.7,486.0 1385.2,472.8 1385.8,484.2 1386.4,469.7 1387.0,480.3 1387.6,469.1 1388.2,480.1 1388.7,468.7 1389.3,477.4 1389.9,465.5 1390.5,476.6 1391.1,464.5 1391.6,478.0 1392.2,462.3 1392.8,473.0 1393.4,459.9 1394.0,472.0 1394.6,460.7 1395.1,469.1 1395.7,457.5 1396.3,465.3 1396.9,453.6 1397.5,463.1 1398.0,452.3 1398.6,462.2 1399.2,451.5 1399.8,464.2 1400.4,448.3 1400.9,463.3 1401.5,446.1 1402.1,462.3 1402.7,447.4 1403.3,458.2 1403.8,445.5 1404.4,460.1 1405.0,443.8 1405.6,457.7 1406.2,442.5 1406.7,456.5 1407.3,440.1 1407.9,453.9 1408.5,438.2 1409.1,451.0 1409.6,439.2 1410.2,447.1 1410.8,435.4 1411.4,446.5 1412.0,433.8 1412.5,445.7 1413.1,434.1 1413.7,442.9 1414.3,430.1 1414.9,439.9 1415.4,430.6 1416.0,439.5 1416.6,427.6 1417.2,436.3 1417.8,428.8 1418.4,433.8 1419.0,424.7 1419.6,432.3 1420.2,423.9 1420.9,432.3 1421.5,422.3 1422.2,431.2 1422.9,422.2 1423.6,430.3 1424.2,420.4 1424.9,427.0 1425.6,417.8 1426.3,426.5 1427.0,416.4 1427.7,425.6 1428.3,413.8 1429.0,425.8 1429.7,410.2 1430.3,422.3 1430.9,407.0 1431.5,422.5 1432.1,404.4 1432.7,419.7 1433.3,405.8 1433.9,419.7 1434.4,405.0 1435.0,418.7 1435.6,406.7 1436.1,415.3 1436.7,405.5 1437.3,415.0 1437.8,402.7 1438.4,413.0 1439.0,401.7 1439.5,410.8 1440.1,397.6 1440.7,408.1 1441.3,397.1 1441.9,403.6 1442.5,396.7 1443.1,402.7 1443.8,396.9 1444.5,401.0 1445.3,395.3 1446.1,401.1 1446.9,394.9 1447.7,400.1 1448.6,393.0 1449.4,398.6 1450.2,391.2 1451.1,397.3 1451.9,388.9 1452.7,395.8 1453.4,386.0 1454.1,395.1 1454.8,380.6 1455.4,393.5 1455.9,382.1 1456.5,390.9 1457.0,381.0 1457.5,389.5 1458.0,380.0 1458.5,387.6 1459.0,380.5 1459.5,389.0 1460.0,378.4 1460.5,388.8 1461.0,377.0 1461.5,389.0 1462.0,375.5 1462.5,387.1 1463.0,370.7 1463.5,385.7 1464.0,367.1 1464.6,384.9 1465.1,365.2 1465.7,380.9 1466.3,362.1 1467.0,377.0 1467.6,361.6 1468.3,376.0 1469.0,359.9 1469.6,374.0 1470.3,363.1 1471.0,372.0 1471.6,362.4 1472.3,374.9 1473.0,361.3 1473.7,372.7 1474.3,358.7 1475.0,367.5 1475.7,354.7 1476.3,368.0 1477.0,354.5 1477.7,364.3 1478.3,352.5 1479.0,363.7 1479.6,353.3 1480.2,363.4 1480.9,349.4 1481.5,362.0 1482.1,349.5 1482.8,363.2 1483.4,344.7 1484.0,363.0 1484.6,343.9 1485.3,359.3 1485.9,344.4 1486.5,359.1 1487.1,343.2 1487.8,355.9 1488.4,343.0 1489.0,351.3 1489.6,342.0 1490.3,350.3 1490.9,341.2 1491.5,348.2 1492.1,339.3 1492.8,345.5 1493.4,335.3 1494.0,344.6 1494.6,333.0 1495.3,343.4 1495.9,328.6 1496.5,344.6 1497.1,324.9 1497.8,341.1 1498.4,322.4 1499.0,340.6 1499.7,319.7 1500.3,338.4 1501.0,320.7 1501.6,333.9 1502.3,323.3 1503.0,333.8 1503.7,323.0 1504.4,334.4 1505.1,321.9 1505.9,333.5 1506.6,320.6 1507.3,329.3 1508.0,317.7 1508.8,329.9 1509.5,317.4 1510.2,326.8 1510.9,314.7 1511.7,325.5 1512.4,313.8 1513.1,322.3 1513.8,311.0 1514.5,322.5 1515.3,311.8 1516.0,321.0 1516.7,310.3 1517.4,322.0 1518.2,308.6 1518.9,319.0 1519.6,309.9 1520.3,321.7 1521.1,307.5 1521.8,317.5 1522.5,306.5 1523.3,313.7 1524.1,302.7 1524.8,311.1 1525.6,301.4 1526.4,308.5 1527.2,301.5 1527.9,309.0 1528.7,298.8 1529.5,309.5 1530.3,297.2 1531.1,308.4 1531.9,297.4 1532.6,309.6 1533.4,297.7 1534.2,309.5 1535.0,296.7 1535.8,304.1 1536.6,295.2 1537.3,303.7 1538.1,291.9 1538.9,302.9 1539.7,289.1 1540.5,303.7 1541.2,289.6 1542.0,304.0 1542.7,284.1 1543.5,303.4 1544.2,279.9 1544.9,300.9 1545.6,283.2 1546.4,299.5 1547.1,279.2 1547.8,294.0 1548.5,279.0 1549.3,291.6 1550.0,277.9 1550.7,290.6 1551.5,277.0 1552.2,290.1 1552.9,278.5 1553.6,292.3 1554.4,279.1 1555.1,292.4 1555.8,277.2 1556.5,289.8 1557.3,276.0 1558.0,285.5 1558.7,274.3 1559.4,283.7 1560.2,270.8 1560.9,280.0 1561.6,269.1 1562.3,279.3 1563.1,267.5 1563.8,276.4 1564.5,265.7 1565.2,274.4 1566.0,265.2 1566.7,272.6 1567.4,262.5 1568.2,270.9 1568.9,260.1 1569.7,270.2 1570.4,262.6 1571.1,269.0 1571.9,262.2 1572.6,268.8 1573.3,261.7 1574.1,269.5 1574.8,259.1 1575.6,271.1 1576.3,259.1 1577.0,269.5 1577.8,256.0 1578.5,269.1 1579.2,253.7 1580.0,265.8 1580.7,250.8 1581.4,264.4 1582.1,248.7 1582.8,259.6 1583.4,248.8 1584.1,257.9 1584.8,249.4 1585.4,256.2 1586.1,248.4 1586.8,256.0 1587.4,245.6 1588.0,255.3 1588.7,241.7 1589.3,253.6 1589.9,239.1 1590.5,253.3 1591.0,236.9 1591.6,249.9 1592.0,244.5" fill="none" stroke="#007870" stroke-width="8.0" stroke-linejoin="round" stroke-linecap="butt" shape-rendering="crispEdges"/>
<polyline clip-path="url(#ci)" points="1141.5,1077.4 1141.4,1064.5 1141.4,1073.4 1141.3,1076.3 1141.3,1066.9 1141.2,1070.4 1141.2,1066.1 1141.1,1069.8 1141.1,1063.4 1141.0,1061.6 1141.0,1065.6 1141.0,1063.2 1141.0,1057.7 1141.1,1052.2 1141.4,1051.5 1141.7,1055.2 1142.1,1053.8 1142.6,1047.8 1143.0,1052.9 1143.4,1049.7 1143.9,1045.7 1144.3,1045.2 1144.7,1044.5 1145.2,1041.2 1145.6,1042.9 1146.0,1039.3 1146.5,1037.9 1147.0,1039.2 1147.6,1036.7 1148.3,1030.6 1149.1,1032.9 1149.8,1029.0 1150.7,1030.8 1151.5,1030.2 1152.3,1024.5 1153.1,1029.0 1153.9,1029.8 1154.8,1025.0 1155.6,1020.1 1156.4,1021.2 1157.2,1021.1 1158.0,1020.3 1158.8,1019.2 1159.7,1014.8 1160.5,1014.1 1161.3,1015.8 1162.1,1017.5 1162.8,1012.2 1163.6,1010.2 1164.4,1004.6 1165.2,1011.8 1165.9,1006.6 1166.7,1000.2 1167.5,1002.5 1168.3,1000.8 1169.0,998.6 1169.8,996.5 1170.6,996.2 1171.3,1002.1 1172.1,997.8 1172.9,995.3 1173.7,990.2 1174.4,991.1 1175.2,991.7 1176.0,989.1 1176.8,987.8 1177.5,991.0 1178.3,989.1 1179.1,985.7 1179.8,979.2 1180.6,982.0 1181.4,977.7 1182.2,977.4 1182.9,977.5 1183.7,977.4 1184.5,977.7 1185.3,969.3 1186.0,974.5 1186.8,970.0 1187.6,970.0 1188.4,966.6 1189.2,971.4 1190.0,966.3 1190.8,967.1 1191.6,961.8 1192.3,965.0 1193.1,961.7 1193.9,957.9 1194.7,958.2 1195.5,955.9 1196.3,954.1 1197.1,958.2 1197.9,954.2 1198.7,951.3 1199.5,947.1 1200.3,952.2 1201.1,948.2 1201.9,946.3 1202.7,943.8 1203.5,948.2 1204.3,946.2 1205.1,941.1 1205.8,939.5 1206.6,938.4 1207.4,937.8 1208.2,936.8 1209.0,932.1 1209.8,932.6 1210.6,933.0 1211.4,934.4 1212.2,931.9 1213.0,929.6 1213.8,926.0 1214.6,927.6 1215.4,927.5 1216.2,926.5 1217.1,926.2 1217.9,921.0 1218.7,919.0 1219.5,921.8 1220.3,916.8 1221.1,918.1 1222.0,915.5 1222.8,910.5 1223.6,912.9 1224.4,911.1 1225.2,909.5 1226.0,908.0 1226.9,904.6 1227.7,905.1 1228.5,904.0 1229.3,906.4 1230.1,902.1 1230.9,902.0 1231.8,904.3 1232.6,894.6 1233.4,900.3 1234.2,897.0 1235.0,894.3 1235.8,891.0 1236.7,895.4 1237.5,892.4 1238.3,889.4 1239.1,886.4 1239.9,890.4 1240.7,890.4 1241.6,883.2 1242.4,884.0 1243.2,883.8 1244.0,883.8 1244.8,879.5 1245.7,884.0 1246.5,883.8 1247.3,875.9 1248.1,873.5 1248.9,871.5 1249.7,874.7 1250.6,871.9 1251.4,868.5 1252.2,869.6 1253.0,870.3 1253.8,869.5 1254.6,867.0 1255.5,864.6 1256.3,861.6 1257.1,864.2 1257.9,863.6 1258.7,859.8 1259.5,857.5 1260.4,860.9 1261.2,853.7 1262.0,855.4 1262.8,857.6 1263.6,852.1 1264.4,850.1 1265.3,844.2 1266.1,845.9 1266.9,846.4 1267.7,850.1 1268.5,841.3 1269.3,847.5 1270.1,841.8 1270.9,839.9 1271.6,840.3 1272.4,834.8 1273.1,837.8 1273.9,839.2 1274.6,829.2 1275.3,830.4 1276.1,828.2 1276.8,830.4 1277.5,829.0 1278.3,831.9 1279.0,823.4 1279.8,827.6 1280.5,822.2 1281.2,823.2 1282.0,820.5 1282.7,821.1 1283.5,816.0 1284.2,819.3 1285.0,817.3 1285.8,810.4 1286.6,811.9 1287.4,812.2 1288.2,807.5 1289.1,806.1 1289.9,806.0 1290.7,807.2 1291.5,806.3 1292.3,801.8 1293.1,804.0 1293.9,796.7 1294.7,805.1 1295.5,798.1 1296.3,801.4 1297.1,795.7 1297.9,794.6 1298.8,795.3 1299.6,794.1 1300.4,787.9 1301.2,789.1 1302.0,788.8 1302.8,787.0 1303.6,785.7 1304.4,784.1 1305.2,783.0 1306.0,784.0 1306.8,781.2 1307.6,779.6 1308.4,776.9 1309.2,780.6 1310.0,775.7 1310.8,778.9 1311.6,773.2 1312.4,770.2 1313.2,770.7 1314.0,769.2 1314.8,773.3 1315.6,767.2 1316.4,765.8 1317.2,767.8 1318.0,761.5 1318.8,759.9 1319.6,758.7 1320.4,762.8 1321.2,758.0 1322.0,757.6 1322.8,759.3 1323.6,755.0 1324.4,750.1 1325.2,753.1 1326.0,753.5 1326.7,754.3 1327.5,752.0 1328.3,747.3 1329.1,746.2 1329.9,744.8 1330.7,742.3 1331.5,745.4 1332.3,740.1 1333.1,738.4 1333.9,735.1 1334.7,732.9 1335.5,734.8 1336.3,735.6 1337.1,730.6 1337.9,730.4 1338.7,727.2 1339.5,726.5 1340.3,725.7 1341.1,728.8 1341.9,730.2 1342.7,726.9 1343.4,730.2 1344.2,720.0 1345.0,723.0 1345.8,716.7 1346.6,714.3 1347.4,719.3 1348.2,711.9 1349.0,716.3 1349.8,712.5 1350.6,713.5 1351.4,706.0 1352.3,710.1 1353.1,708.7 1353.9,707.9 1354.7,701.7 1355.6,702.8 1356.4,698.6 1357.2,704.7 1358.1,699.7 1358.9,698.2 1359.7,699.7 1360.6,695.1 1361.4,695.2 1362.2,692.8 1363.1,694.1 1363.9,686.6 1364.7,692.6 1365.6,689.0 1366.4,685.0 1367.2,690.5 1368.1,690.0 1368.9,682.0 1369.7,682.7 1370.6,681.5 1371.4,681.7 1372.2,675.2 1373.1,677.5 1373.9,674.5 1374.7,675.9 1375.5,671.6 1376.4,671.4 1377.2,669.9 1378.0,668.7 1378.9,668.9 1379.7,667.8 1380.5,663.1 1381.4,663.6 1382.2,663.4 1383.0,664.3 1383.9,664.7 1384.7,659.5 1385.5,659.9 1386.4,661.1 1387.2,658.3 1388.0,654.6 1388.8,653.4 1389.7,655.4 1390.5,655.7 1391.3,651.5 1392.2,648.4 1393.0,647.4 1393.9,649.8 1394.8,647.8 1395.7,646.6 1396.6,645.3 1397.5,640.5 1398.4,639.2 1399.3,640.3 1400.2,637.2 1401.1,637.7 1402.1,635.1 1403.0,634.2 1403.9,635.9 1404.8,630.7 1405.7,629.7 1406.6,633.7 1407.6,625.6 1408.5,628.3 1409.4,626.4 1410.3,624.2 1411.2,628.0 1412.1,621.2 1413.1,616.7 1414.0,623.1 1414.9,623.9 1415.8,614.2 1416.7,617.6 1417.6,615.8 1418.6,614.9 1419.5,615.2 1420.4,612.7 1421.3,611.8 1422.2,605.6 1423.1,605.3 1424.1,609.1 1425.0,606.5 1425.9,606.0 1426.8,605.6 1427.7,598.7 1428.6,597.3 1429.5,598.1 1430.5,600.4 1431.4,598.1 1432.3,593.7 1433.2,594.7 1434.1,591.3 1435.1,592.2 1436.0,591.6 1436.9,593.7 1437.9,589.3 1438.9,588.7 1439.9,585.8 1440.9,590.3 1441.9,586.2 1442.9,583.6 1443.9,583.0 1445.0,583.9 1446.0,578.8 1447.0,582.2 1448.0,575.3 1449.0,574.1 1450.0,574.2 1451.0,571.3 1452.0,574.9 1453.1,572.2 1454.1,572.4 1455.1,574.0 1456.1,567.1 1457.1,570.2 1458.1,566.2 1459.1,568.2 1460.0,567.6 1460.9,563.2 1461.7,564.3 1462.5,560.6 1463.2,563.5 1463.9,556.8 1464.6,565.3 1465.3,552.3 1465.9,552.7 1466.6,554.4 1467.3,553.4 1468.1,551.8 1468.8,554.2 1469.7,550.0 1470.6,544.2 1471.7,539.2 1472.7,546.7 1473.8,541.9 1474.9,539.9 1476.0,545.0 1477.1,541.1 1478.2,535.1 1479.3,538.2 1480.3,538.4 1481.2,537.4 1482.0,536.0 1482.7,534.6 1483.5,531.2 1484.2,530.5 1484.9,530.9 1485.6,527.9 1486.3,529.9 1487.0,523.7 1487.7,524.8 1488.4,524.3 1489.1,522.8 1489.8,521.1 1490.5,518.4 1491.2,516.7 1491.9,513.3 1492.6,514.1 1493.3,515.1 1494.0,516.4 1494.7,508.7 1495.4,506.4 1496.1,513.4 1496.8,504.4 1497.5,509.6 1498.2,521.7 1498.9,505.8 1499.7,501.2 1500.4,501.2 1501.1,500.4 1501.9,496.0 1502.8,500.4 1503.7,490.9 1504.6,493.4 1505.5,490.9 1506.4,491.8 1507.3,492.7 1508.2,487.8 1509.1,489.8 1510.0,483.6 1511.0,490.1 1511.9,484.2 1512.8,486.2 1513.7,482.8 1514.6,481.4 1515.5,481.3 1516.4,479.3 1517.3,479.7 1518.3,481.1 1519.2,472.2 1520.1,470.4 1521.0,486.2 1521.9,467.8 1522.9,474.5 1523.8,472.2 1524.7,471.4 1525.7,470.0 1526.7,465.7 1527.6,465.5 1528.6,463.2 1529.5,465.6 1530.5,466.2 1531.5,461.6 1532.4,463.0 1533.4,459.1 1534.3,452.0 1535.3,455.8 1536.3,457.4 1537.2,454.0 1538.2,453.4 1539.1,453.8 1540.1,452.2 1541.1,450.3 1542.0,447.9 1543.0,449.7 1544.0,443.8 1544.9,444.0 1545.9,444.9 1546.8,443.7 1547.8,443.8 1548.7,436.9 1549.7,436.4 1550.7,438.2 1551.6,433.2 1552.6,437.2 1553.5,435.3 1554.5,434.6 1555.5,430.0 1556.4,430.7 1557.4,422.6 1558.3,424.7 1559.3,425.3 1560.3,427.9 1561.2,424.5 1562.2,422.2 1563.1,422.2 1564.1,424.7 1565.1,419.4 1566.1,419.2 1567.1,419.1 1568.1,412.3 1569.0,413.9 1570.0,413.3 1571.0,414.6 1572.0,411.6 1573.0,410.7 1574.0,407.0 1575.0,405.7 1575.9,410.6 1576.9,406.8 1577.9,408.5 1578.9,402.0 1579.9,403.4 1580.9,403.8 1581.9,397.2 1582.8,399.6 1583.8,395.0 1584.8,392.5 1585.8,393.7 1586.8,391.0 1587.8,402.3 1588.7,392.8 1589.7,390.9 1590.7,392.7 1591.7,392.2 1592.7,390.2 1593.6,387.9 1594.6,385.4 1595.6,386.5 1596.6,377.7 1597.6,383.6 1598.6,383.9 1599.5,379.8 1600.5,381.3 1601.5,379.1 1602.5,377.5 1603.5,377.7 1604.5,374.7 1605.5,371.9 1606.5,371.7 1607.6,373.1 1608.7,367.8 1609.7,372.8 1610.8,360.0 1611.9,368.2 1613.0,368.2 1614.1,367.9 1615.2,362.0 1616.3,363.5 1617.4,359.8 1618.4,361.6 1619.5,361.0 1620.6,359.7 1621.7,357.9 1622.8,356.0 1623.9,355.6 1625.0,350.1 1626.0,353.9 1627.1,353.2 1628.2,353.3 1629.2,352.7 1630.3,349.5 1631.3,345.5 1632.3,347.7 1633.4,348.0 1634.4,345.1 1635.4,347.9 1636.5,346.1 1637.5,350.8 1638.5,339.4 1639.6,337.6 1640.6,338.3 1641.6,336.4 1642.7,337.1 1643.7,336.0 1644.7,333.9 1645.8,331.5 1646.8,330.7 1647.9,334.1 1648.9,329.5 1649.9,330.0 1651.0,327.1 1652.1,330.5 1653.1,324.8 1654.2,323.0 1655.3,322.1 1656.3,323.3 1657.4,319.1 1658.4,315.7 1659.5,322.2 1660.6,322.5 1661.6,321.3 1662.7,315.2 1663.8,317.0 1664.8,315.8 1665.9,315.5 1666.9,311.9 1668.0,310.4 1669.1,310.9 1670.1,307.8 1671.1,305.3 1672.1,308.1 1673.1,310.3 1674.1,303.4 1675.0,303.0 1676.0,297.9 1676.9,304.2 1677.9,302.2 1678.9,296.6 1679.8,297.1 1680.8,292.1 1681.8,296.8 1682.7,293.6 1683.7,295.3 1684.7,292.7 1685.6,292.1 1686.6,288.3 1687.6,287.9 1688.6,291.2 1689.6,283.5 1690.6,281.6 1691.7,290.8 1692.7,282.6 1693.8,283.5 1694.8,281.4 1695.9,280.6 1696.9,278.7 1698.0,276.0 1699.1,275.7 1700.1,274.1 1701.2,274.6 1702.2,273.1 1703.3,267.8 1704.3,273.7 1705.4,266.1 1706.5,270.5 1707.5,267.1 1708.6,268.0 1709.6,259.6 1710.7,262.7 1711.7,263.3 1712.7,262.3 1713.7,257.5 1714.7,256.4 1715.7,259.5 1716.7,259.2 1717.7,255.9 1718.7,251.0 1719.7,254.9 1720.7,256.2 1721.7,251.7 1722.7,250.2 1723.5,248.9 1724.4,248.1 1725.1,242.8 1725.8,244.2 1726.6,242.8 1727.3,241.0 1727.3,242.1" fill="none" stroke="#9400D3" stroke-width="11.0" stroke-linejoin="miter" stroke-miterlimit="4.5" stroke-linecap="butt" shape-rendering="crispEdges"/>
<polyline clip-path="url(#ci)" points="1282.0,1062.0 1282.6,1056.8 1283.1,1070.1 1283.7,1054.2 1284.3,1067.3 1284.8,1049.6 1285.4,1066.6 1285.8,1047.2 1286.3,1064.1 1286.8,1044.9 1287.3,1064.7 1287.8,1043.8 1288.2,1058.5 1288.7,1043.8 1289.1,1059.5 1289.6,1043.8 1290.1,1055.2 1290.5,1043.0 1291.0,1050.8 1291.4,1038.7 1291.9,1050.1 1292.4,1036.2 1292.8,1050.5 1293.3,1035.3 1293.7,1048.3 1294.2,1035.2 1294.7,1049.9 1295.1,1034.2 1295.6,1047.0 1296.0,1032.5 1296.5,1043.7 1297.0,1028.2 1297.4,1040.4 1297.9,1028.1 1298.3,1037.8 1298.8,1023.7 1299.3,1035.8 1299.7,1018.1 1300.2,1033.5 1300.6,1016.8 1301.1,1032.2 1301.6,1018.6 1302.0,1030.4 1302.5,1013.2 1303.0,1026.6 1303.4,1015.2 1303.9,1027.5 1304.3,1013.0 1304.8,1025.6 1305.3,1011.1 1305.7,1022.5 1306.2,1011.6 1306.6,1022.8 1307.1,1010.3 1307.6,1018.7 1308.1,1009.3 1308.6,1017.6 1309.1,1007.2 1309.6,1019.2 1310.1,1004.7 1310.6,1018.9 1311.1,1004.0 1311.6,1017.6 1312.2,1001.2 1312.7,1013.4 1313.2,1000.4 1313.7,1009.1 1314.2,997.0 1314.7,1007.6 1315.3,996.4 1315.8,1005.3 1316.3,990.8 1316.8,1003.1 1317.3,992.3 1317.8,1003.5 1318.3,990.4 1318.9,1001.9 1319.4,990.1 1319.9,998.9 1320.4,989.5 1320.9,995.6 1321.4,987.3 1322.0,994.0 1322.5,986.5 1323.0,992.6 1323.5,984.2 1324.0,991.2 1324.5,982.1 1325.0,988.9 1325.6,979.1 1326.1,988.3 1326.6,977.4 1327.1,986.0 1327.6,973.3 1328.1,985.9 1328.6,973.3 1329.2,984.7 1329.7,973.6 1330.2,981.7 1330.7,968.7 1331.2,979.8 1331.7,969.2 1332.2,977.1 1332.8,968.1 1333.3,978.0 1333.8,965.1 1334.3,974.5 1334.8,965.1 1335.3,972.0 1335.8,964.9 1336.3,970.9 1336.8,963.3 1337.3,969.9 1337.8,960.2 1338.3,969.8 1338.8,957.7 1339.3,967.4 1339.8,956.7 1340.3,968.5 1340.8,954.9 1341.3,967.9 1341.8,951.3 1342.3,962.9 1342.8,951.5 1343.3,960.6 1343.8,946.9 1344.3,958.5 1344.8,946.2 1345.3,954.8 1345.8,945.0 1346.3,952.1 1346.8,944.7 1347.3,949.1 1347.8,942.0 1348.3,947.0 1348.8,940.2 1349.3,947.0 1349.8,937.5 1350.3,948.8 1350.8,933.7 1351.2,946.5 1351.7,931.9 1352.2,949.8 1352.7,931.6 1353.2,945.5 1353.7,931.3 1354.2,942.3 1354.7,929.4 1355.2,943.0 1355.7,928.4 1356.2,939.8 1356.7,925.4 1357.2,938.8 1357.7,924.0 1358.3,935.2 1358.8,920.9 1359.3,931.7 1359.8,917.6 1360.3,931.0 1360.9,918.0 1361.4,932.9 1361.9,916.9 1362.5,931.0 1363.0,917.2 1363.5,929.3 1364.0,914.9 1364.6,929.9 1365.1,913.3 1365.6,924.9 1366.2,909.2 1366.7,922.0 1367.2,908.7 1367.7,920.4 1368.3,904.6 1368.8,918.0 1369.3,902.7 1369.9,912.8 1370.4,901.5 1370.9,911.4 1371.5,900.5 1372.0,908.3 1372.5,901.0 1373.0,907.1 1373.6,899.8 1374.1,907.0 1374.6,897.9 1375.2,907.0 1375.7,897.2 1376.2,905.8 1376.7,894.8 1377.3,906.4 1377.8,891.9 1378.3,903.3 1378.9,892.5 1379.4,902.3 1379.9,890.2 1380.5,904.7 1381.0,888.2 1381.5,900.2 1382.0,884.4 1382.6,901.7 1383.1,881.4 1383.6,896.8 1384.2,879.8 1384.7,896.8 1385.3,879.2 1385.8,894.9 1386.4,877.4 1386.9,888.7 1387.5,874.3 1388.1,885.6 1388.6,873.6 1389.2,884.4 1389.8,872.3 1390.4,884.1 1390.9,869.0 1391.5,881.8 1392.1,868.7 1392.7,879.2 1393.2,867.6 1393.8,878.8 1394.4,864.1 1395.0,876.7 1395.5,862.2 1396.1,877.3 1396.7,862.9 1397.3,875.7 1397.8,859.6 1398.4,873.1 1399.0,858.9 1399.6,876.4 1400.1,856.4 1400.7,875.5 1401.3,855.3 1401.8,872.0 1402.4,854.3 1403.0,870.3 1403.6,851.9 1404.1,867.9 1404.7,849.5 1405.3,868.5 1405.9,847.2 1406.4,862.6 1407.0,846.8 1407.6,859.0 1408.2,846.6 1408.7,856.3 1409.3,843.8 1409.9,852.9 1410.5,844.0 1411.0,851.1 1411.6,839.4 1412.2,849.8 1412.7,838.7 1413.3,849.9 1413.9,836.8 1414.5,847.2 1415.0,834.4 1415.6,846.0 1416.1,835.0 1416.7,845.7 1417.2,832.9 1417.8,847.9 1418.3,831.7 1418.9,844.1 1419.4,830.2 1420.0,841.8 1420.5,828.3 1421.1,840.4 1421.6,825.3 1422.1,837.0 1422.7,826.0 1423.2,835.1 1423.8,823.8 1424.3,833.2 1424.9,823.2 1425.4,831.7 1426.0,822.1 1426.5,828.7 1427.0,819.4 1427.6,827.9 1428.1,817.6 1428.6,824.1 1429.1,816.5 1429.6,822.3 1430.0,816.7 1430.4,821.1 1430.8,814.5 1431.2,820.5 1431.6,812.0 1432.1,819.4 1432.5,810.0 1432.9,817.1 1433.4,806.4 1433.9,818.0 1434.5,803.9 1435.0,817.4 1435.6,800.6 1436.2,815.0 1436.7,800.7 1437.3,812.3 1437.9,798.3 1438.4,808.6 1439.0,795.0 1439.6,806.1 1440.1,792.8 1440.7,803.3 1441.3,794.1 1441.8,801.8 1442.4,789.7 1443.0,799.0 1443.5,791.4 1444.1,798.0 1444.7,784.6 1445.3,797.6 1445.8,786.0 1446.4,798.5 1447.0,784.6 1447.5,798.4 1448.1,778.1 1448.7,795.3 1449.2,777.5 1449.8,794.3 1450.4,778.9 1450.9,792.3 1451.5,776.9 1452.0,791.2 1452.5,777.4 1453.0,786.5 1453.5,776.0 1454.0,786.9 1454.4,774.9 1454.9,781.9 1455.4,773.5 1455.8,780.8 1456.3,771.4 1456.8,779.8 1457.2,766.1 1457.7,778.6 1458.2,766.8 1458.6,779.3 1459.1,765.0 1459.6,776.8 1460.0,764.9 1460.5,776.9 1461.0,762.0 1461.4,775.1 1461.9,757.9 1462.4,769.5 1462.8,756.3 1463.3,767.3 1463.8,755.4 1464.2,765.6 1464.7,750.3 1465.2,764.9 1465.6,751.3 1466.1,763.2 1466.6,746.0 1467.0,762.8 1467.5,748.3 1468.0,760.2 1468.4,746.0 1468.9,756.9 1469.4,743.8 1469.8,755.2 1470.3,742.7 1470.8,752.9 1471.2,738.2 1471.7,750.9 1472.2,736.6 1472.7,747.8 1473.2,733.7 1473.6,745.9 1474.2,735.2 1474.7,746.0 1475.2,733.1 1475.8,743.0 1476.3,733.3 1476.9,743.5 1477.4,731.7 1478.0,741.6 1478.5,728.8 1479.1,741.5 1479.6,727.0 1480.2,738.3 1480.7,727.0 1481.3,741.4 1481.8,724.0 1482.3,736.8 1482.8,723.9 1483.3,738.6 1483.8,722.3 1484.4,736.9 1484.9,720.9 1485.4,735.1 1485.9,718.5 1486.4,731.7 1486.9,715.2 1487.4,732.9 1488.0,714.6 1488.5,728.1 1489.0,712.5 1489.5,729.3 1490.0,710.5 1490.5,725.0 1491.0,711.6 1491.5,719.8 1492.1,710.3 1492.6,719.8 1493.1,708.7 1493.6,715.5 1494.1,706.9 1494.6,716.5 1495.1,704.5 1495.6,714.4 1496.2,704.1 1496.7,711.8 1497.2,702.3 1497.7,709.5 1498.2,698.6 1498.7,707.7 1499.2,698.5 1499.7,704.7 1500.3,696.3 1500.8,702.3 1501.3,696.1 1501.8,700.6 1502.3,693.6 1502.9,700.2 1503.4,692.2 1503.9,699.9 1504.4,689.8 1505.0,699.5 1505.5,686.9 1506.0,696.6 1506.6,684.4 1507.1,694.9 1507.6,683.4 1508.1,693.3 1508.7,680.8 1509.2,688.3 1509.7,681.8 1510.3,686.3 1510.8,679.8 1511.3,685.3 1511.8,677.1 1512.4,685.1 1512.9,675.7 1513.4,683.4 1514.0,673.5 1514.5,683.6 1515.0,669.0 1515.6,679.4 1516.1,670.8 1516.6,676.4 1517.1,669.9 1517.7,674.7 1518.2,669.8 1518.7,673.8 1519.3,667.4 1519.8,674.7 1520.3,666.5 1520.8,672.7 1521.4,664.1 1521.9,673.4 1522.4,663.1 1523.0,671.4 1523.5,658.0 1524.1,667.3 1524.7,655.8 1525.2,665.8 1525.8,650.9 1526.3,664.9 1526.9,650.5 1527.5,661.1 1528.1,646.3 1528.6,659.4 1529.2,645.6 1529.8,655.7 1530.3,643.3 1530.9,653.4 1531.5,643.5 1532.0,654.1 1532.6,642.4 1533.2,653.0 1533.7,640.3 1534.3,652.3 1534.9,642.5 1535.4,650.1 1536.0,640.1 1536.6,648.2 1537.1,638.3 1537.7,644.8 1538.3,637.3 1538.8,644.9 1539.4,636.4 1540.0,643.1 1540.5,634.1 1541.1,644.8 1541.7,630.9 1542.2,643.0 1542.8,630.3 1543.4,641.6 1543.9,624.9 1544.5,638.2 1545.1,622.8 1545.6,634.7 1546.2,620.2 1546.8,632.0 1547.4,617.9 1548.0,630.2 1548.5,620.2 1549.1,628.2 1549.7,617.8 1550.3,628.5 1550.9,618.0 1551.5,626.5 1552.1,617.9 1552.7,625.6 1553.3,614.3 1553.9,624.2 1554.4,613.8 1555.0,623.6 1555.6,611.3 1556.2,619.3 1556.8,611.0 1557.4,617.0 1558.0,609.0 1558.6,615.5 1559.2,605.7 1559.8,613.9 1560.4,604.5 1560.9,613.3 1561.5,602.3 1562.1,614.0 1562.7,601.3 1563.3,610.4 1563.9,599.0 1564.5,610.9 1565.1,596.4 1565.7,607.5 1566.3,596.1 1566.8,607.4 1567.4,595.3 1568.0,607.1 1568.6,593.3 1569.2,603.9 1569.8,590.9 1570.4,603.3 1571.1,589.8 1571.7,600.8 1572.4,587.9 1573.0,597.8 1573.7,586.9 1574.3,595.6 1575.0,587.8 1575.6,596.6 1576.3,584.0 1576.9,595.6 1577.6,582.6 1578.2,591.3 1578.9,580.7 1579.5,590.7 1580.2,580.7 1580.9,589.7 1581.5,579.3 1582.2,588.1 1582.8,577.9 1583.5,588.5 1584.1,578.3 1584.8,588.7 1585.4,576.0 1586.1,591.0 1586.8,574.8 1587.4,587.6 1588.1,572.5 1588.7,582.9 1589.4,569.3 1590.0,581.4 1590.7,565.8 1591.3,582.7 1592.0,563.3 1592.6,579.9 1593.3,561.8 1594.0,577.2 1594.6,560.9 1595.3,574.4 1595.9,559.6 1596.5,568.9 1597.1,557.9 1597.6,566.7 1598.1,559.1 1598.5,564.6 1598.8,555.7 1599.0,562.6 1599.2,555.0 1599.4,561.4 1599.6,555.1 1599.8,559.1 1600.0,552.8 1600.2,558.2 1600.5,549.6 1600.8,555.6 1601.2,548.9 1601.6,554.9 1602.2,544.7 1602.8,553.1 1603.4,543.0 1604.0,551.4 1604.6,543.0 1605.3,549.4 1605.9,541.5 1606.5,549.7 1607.2,538.6 1607.8,547.2 1608.5,539.2 1609.1,548.8 1609.7,537.3 1610.4,545.3 1611.0,537.1 1611.7,544.0 1612.3,536.3 1612.9,544.0 1613.6,534.2 1614.2,541.0 1614.8,530.3 1615.5,540.2 1616.1,528.7 1616.8,540.4 1617.4,527.2 1618.0,538.9 1618.7,526.1 1619.3,537.5 1620.0,526.0 1620.6,536.8 1621.2,525.5 1621.9,537.1 1622.5,524.1 1623.1,534.2 1623.7,520.3 1624.3,530.8 1624.9,517.8 1625.6,530.4 1626.2,514.0 1626.8,526.4 1627.4,510.0 1628.0,524.0 1628.6,510.7 1629.2,523.1 1629.8,510.5 1630.4,522.1 1631.1,508.3 1631.7,520.1 1632.3,506.5 1632.9,522.0 1633.5,505.8 1634.1,517.1 1634.7,503.9 1635.3,514.2 1635.9,500.4 1636.5,513.2 1637.2,499.6 1637.8,511.2 1638.4,498.7 1639.0,507.8 1639.6,497.0 1640.2,507.9 1640.8,496.8 1641.4,508.1 1642.0,495.6 1642.7,506.8 1643.3,492.6 1643.9,507.6 1644.5,490.4 1645.1,506.5 1645.7,489.5 1646.3,501.3 1646.9,487.5 1647.5,499.4 1648.1,487.2 1648.8,497.6 1649.4,482.5 1650.0,499.6 1650.6,483.9 1651.2,495.1 1651.8,482.6 1652.4,494.6 1653.0,480.1 1653.6,492.8 1654.2,475.9 1654.8,492.6 1655.5,475.5 1656.1,493.0 1656.7,470.4 1657.3,486.9 1657.9,473.4 1658.5,484.0 1659.1,469.1 1659.7,482.4 1660.3,468.4 1660.9,479.9 1661.5,469.1 1662.2,478.2 1662.8,466.6 1663.4,477.0 1664.0,465.0 1664.6,475.1 1665.2,463.7 1665.9,475.1 1666.5,462.3 1667.1,472.4 1667.8,461.8 1668.4,469.1 1669.0,460.8 1669.7,468.3 1670.3,460.1 1671.0,466.3 1671.6,458.1 1672.2,464.1 1672.9,457.6 1673.5,462.6 1674.2,453.2 1674.8,461.0 1675.4,450.9 1676.1,459.3 1676.7,450.2 1677.4,459.2 1678.0,449.1 1678.6,457.6 1679.3,450.5 1679.9,458.1 1680.6,448.9 1681.2,457.8 1681.8,445.4 1682.5,454.7 1683.1,443.2 1683.8,453.8 1684.4,439.1 1685.1,453.0 1685.7,434.8 1686.4,451.6 1687.1,433.3 1687.8,451.5 1688.5,432.6 1689.2,446.9 1689.9,432.9 1690.7,444.3 1691.4,433.6 1692.1,442.2 1692.9,429.7 1693.6,440.5 1694.4,431.5 1695.1,440.9 1695.8,428.5 1696.6,439.3 1697.3,428.8 1698.0,440.3 1698.8,429.8 1699.5,441.6 1700.3,429.3 1701.0,438.1 1701.7,427.6 1702.5,436.6 1703.2,427.6 1703.9,436.5 1704.7,426.0 1705.4,432.1 1706.1,425.1 1706.8,430.1 1707.5,423.0 1708.2,427.2 1708.9,420.3 1709.6,426.1 1710.3,418.2 1711.0,425.0 1711.6,412.7 1712.3,424.2 1713.0,414.4 1713.7,422.9 1714.3,415.3 1715.0,423.1 1715.7,414.4 1716.4,420.6 1717.0,412.9 1717.7,423.7 1718.4,411.6 1719.1,420.9 1719.7,410.1 1720.4,417.0 1721.1,409.1 1721.7,418.2 1722.4,406.1 1723.1,413.2 1723.8,403.4 1724.4,411.4 1725.1,401.7 1725.8,412.2 1726.5,400.1 1727.1,408.8 1727.8,399.0 1728.4,410.3 1729.1,397.7 1729.7,406.6 1730.4,395.0 1731.0,405.7 1731.6,394.9 1732.3,405.7 1732.9,392.9 1733.5,403.7 1734.1,390.5 1734.8,399.1 1735.4,389.2 1736.0,397.0 1736.7,386.0 1737.3,395.2 1737.9,386.4 1738.5,393.9 1739.2,382.8 1739.8,391.3 1740.4,382.6 1741.0,390.9 1741.7,381.4 1742.3,388.9 1742.9,380.3 1743.5,388.6 1744.2,379.9 1744.8,389.3 1745.4,376.5 1746.0,387.1 1746.7,375.5 1747.3,384.8 1747.9,372.8 1748.6,385.3 1749.2,371.2 1749.8,382.2 1750.5,367.5 1751.2,378.6 1751.9,366.1 1752.6,378.2 1753.3,361.5 1754.0,374.5 1754.7,364.0 1755.4,374.1 1756.1,360.8 1756.8,372.7 1757.5,360.7 1758.2,372.7 1758.9,360.0 1759.6,373.4 1760.3,359.1 1761.0,371.1 1761.7,360.1 1762.4,369.0 1763.1,356.7 1763.8,364.8 1764.5,354.7 1765.2,361.7 1765.9,353.5 1766.7,360.5 1767.4,348.3 1768.1,360.6 1768.8,347.5 1769.5,361.0 1770.2,346.1 1770.9,360.1 1771.6,347.1 1772.2,358.7 1772.9,349.3 1773.6,359.0 1774.2,347.5 1774.9,357.6 1775.6,346.9 1776.2,353.7 1776.9,344.9 1777.5,351.7 1778.2,340.4 1778.8,349.8 1779.5,339.0 1780.2,346.9 1780.8,333.8 1781.5,347.2 1782.1,332.0 1782.8,349.1 1783.4,332.8 1784.1,345.7 1784.8,329.8 1785.4,344.7 1786.1,330.6 1786.7,344.0 1787.4,331.6 1788.0,340.3 1788.7,329.4 1789.4,337.9 1790.0,326.0 1790.7,335.9 1791.3,322.3 1792.0,337.7 1792.6,318.1 1793.3,333.5 1794.0,320.2 1794.6,332.0 1795.3,318.3 1796.0,328.2 1796.6,320.2 1797.3,326.7 1798.0,317.8 1798.6,324.4 1799.3,319.1 1800.0,323.5 1800.7,317.9 1801.3,324.1 1802.0,316.7 1802.7,326.3 1803.3,315.1 1804.0,323.2 1804.7,313.8 1805.4,324.1 1806.0,312.6 1806.7,321.3 1807.4,310.8 1808.0,318.9 1808.7,309.0 1809.4,319.4 1810.0,307.8 1810.7,315.0 1811.4,307.2 1812.0,314.1 1812.7,305.2 1813.4,311.7 1814.0,302.6 1814.7,313.4 1815.3,300.8 1815.9,310.0 1816.6,298.5 1817.2,309.4 1817.8,295.3 1818.4,305.5 1819.0,293.8 1819.6,305.9 1820.2,294.5 1820.8,302.5 1821.4,292.4 1822.0,300.0 1822.6,290.3 1823.2,299.7 1823.8,288.2 1824.4,297.6 1825.0,285.2 1825.6,298.9 1826.2,283.7 1826.8,296.4 1827.4,282.9 1828.0,293.2 1828.6,281.5 1829.3,292.1 1829.9,277.6 1830.5,288.4 1831.1,275.9 1831.7,286.8 1832.3,273.6 1832.9,285.4 1833.5,270.5 1834.1,285.8 1834.7,268.4 1835.4,282.6 1836.0,270.2 1836.7,284.3 1837.4,270.0 1838.1,284.3 1838.8,268.2 1839.5,280.7 1840.2,269.5 1840.9,278.3 1841.6,266.9 1842.3,279.6 1843.0,266.2 1843.7,276.3 1844.4,263.0 1845.1,272.5 1845.8,259.2 1846.5,272.6 1847.2,258.1 1847.9,270.9 1848.7,257.6 1849.4,272.0 1850.1,258.6 1850.8,268.6 1851.5,254.1 1852.2,266.1 1852.9,252.4 1853.6,268.0 1854.3,251.4 1855.0,264.7 1855.7,251.3 1856.4,264.0 1857.1,246.5 1857.7,259.6 1858.4,247.3 1859.1,261.2 1859.8,243.0 1860.4,260.1 1861.1,241.3 1861.7,258.5 1862.4,243.0 1863.1,255.0 1863.7,237.9 1864.4,252.4 1865.0,239.5 1865.7,250.4 1866.4,238.7 1867.0,250.5 1867.7,235.2 1868.3,249.5 1869.0,236.2 1869.7,246.6 1870.3,234.2 1871.0,247.9 1871.6,231.8 1872.2,239.0" fill="none" stroke="#000000" stroke-width="8.0" stroke-linejoin="round" stroke-linecap="butt" shape-rendering="crispEdges"/>
<path d="M429 1065L438.5 1065L437 1068L432.5 1070.3L430 1068.5Z" fill="#A21F10"/>
<path d="M1135.5 1065L1144.8 1065L1143.5 1071L1142 1078.3L1140.5 1076Z" fill="#9400D3"/>
<path d="M459.4 1060.0V1047.2M459.4 53.0V65.8M696.4 1060.0V1047.2M696.4 53.0V65.8M933.3 1060.0V1047.2M933.3 53.0V65.8M1170.2 1060.0V1047.2M1170.2 53.0V65.8M1407.1 1060.0V1047.2M1407.1 53.0V65.8M1644.1 1060.0V1047.2M1644.1 53.0V65.8M225.5 809.8H238.3M1878.0 809.8H1865.2M225.5 556.5H238.3M1878.0 556.5H1865.2M225.5 303.2H238.3M1878.0 303.2H1865.2" stroke="#000" stroke-width="1.2" fill="none" shape-rendering="crispEdges"/>
<rect x="222.50" y="50.00" width="1658.50" height="1013.00" fill="none" stroke="#000" stroke-width="6.5" shape-rendering="crispEdges"/>
<path d="M788.7 468.1L1123.6 279.9" stroke="#000" stroke-width="10.5" stroke-dasharray="20.5 7.8" fill="none" shape-rendering="crispEdges"/>
<path d="M1227.2 275.7L1867 234.7" stroke="#000" stroke-width="10.5" stroke-dasharray="20.4 7.9" fill="none" shape-rendering="crispEdges"/>
<defs><filter id="crisp" x="0" y="0" width="100%" height="100%" filterUnits="userSpaceOnUse" color-interpolation-filters="sRGB"><feComponentTransfer><feFuncA type="discrete" tableValues="0 1"/></feComponentTransfer></filter></defs>
<g filter="url(#crisp)">
<path d="M280.0 130.0H358.0" stroke="#0096B9" stroke-width="7.8"/>
<text x="375.8" y="149.2" font-size="55.3">1st tensile</text>
<path d="M280.0 184.0H358.0" stroke="#A21F10" stroke-width="7.8"/>
<text x="375.8" y="203.2" font-size="55.3">5th tensile</text>
<path d="M281.0 239.0H359.0" stroke="#0042B0" stroke-width="7.8"/>
<text x="373.3" y="258.2" font-size="55.3">10th tensile</text>
<path d="M280.0 293.5H358.0" stroke="#F0E442" stroke-width="7.8"/>
<text x="375.8" y="312.7" font-size="55.3">15th tensile</text>
<path d="M1483.0 815.7H1556.0" stroke="#FFB400" stroke-width="7.8"/>
<text x="1574.5" y="833.9" font-size="52.2">20th tensile</text>
<path d="M1482.0 865.0H1556.0" stroke="#56B4E9" stroke-width="7.8"/>
<text x="1574.5" y="883.2" font-size="52.2">25th tensile</text>
<path d="M1483.0 917.0H1557.0" stroke="#007870" stroke-width="7.8"/>
<text x="1570.0" y="935.2" font-size="52.2">30th tensile</text>
<path d="M1482.0 967.7H1555.0" stroke="#9400D3" stroke-width="7.8"/>
<text x="1573.0" y="985.9" font-size="52.2">35th tensile</text>
<path d="M1483.0 1015.5H1556.0" stroke="#000000" stroke-width="7.8"/>
<text x="1573.0" y="1033.7" font-size="52.2">40th tensile</text>
<text x="230.8" y="1143" font-size="59.6" text-anchor="middle">0</text>
<text x="467.7" y="1143" font-size="59.6" text-anchor="middle">2</text>
<text x="704.7" y="1143" font-size="59.6" text-anchor="middle">4</text>
<text x="941.6" y="1143" font-size="59.6" text-anchor="middle">6</text>
<text x="1178.5" y="1143" font-size="59.6" text-anchor="middle">8</text>
<text x="1415.4" y="1143" font-size="59.6" text-anchor="middle">10</text>
<text x="1652.4" y="1143" font-size="59.6" text-anchor="middle">12</text>
<text x="1889.3" y="1143" font-size="59.6" text-anchor="middle">14</text>
<text x="186.5" y="1083.0" font-size="59.6" text-anchor="end">0</text>
<text x="186.5" y="829.8" font-size="59.6" text-anchor="end">1</text>
<text x="186.5" y="576.5" font-size="59.6" text-anchor="end">2</text>
<text x="186.5" y="323.2" font-size="59.6" text-anchor="end">3</text>
<text x="186.5" y="70.0" font-size="59.6" text-anchor="end">4</text>
<text transform="translate(988.2,1234) scale(0.87,1)" font-size="61.3" class="sym">ε</text>
<text x="1029.7" y="1234" font-size="60">[%]</text>
<text transform="translate(77,661) rotate(-90) scale(1.14,1)" font-size="62" class="sym">σ</text>
<text transform="translate(77,607.1) rotate(-90)" font-size="60">[GPa]</text>
</g>
</svg></body></html>
